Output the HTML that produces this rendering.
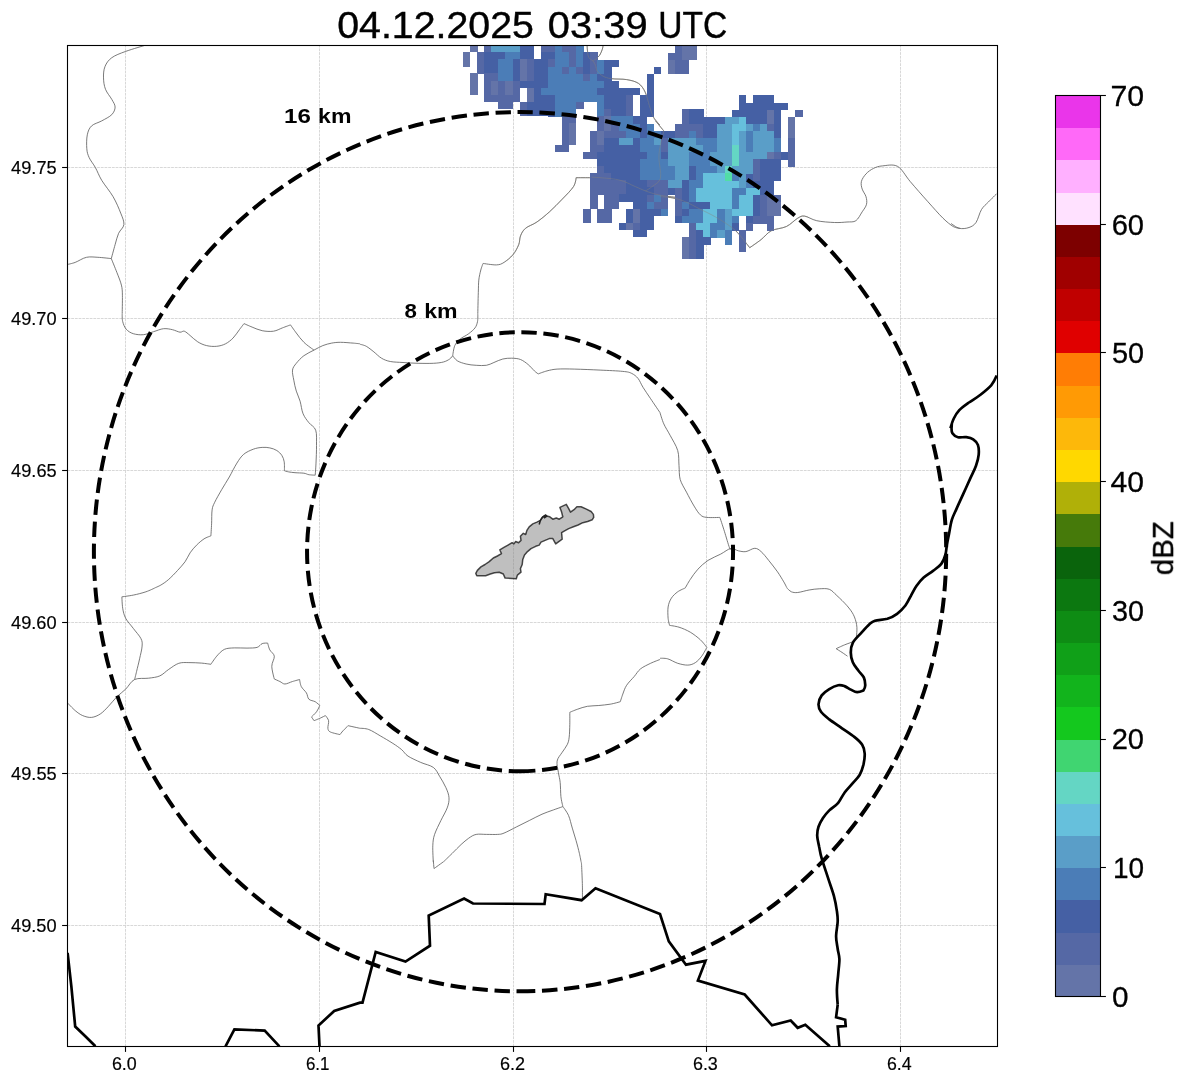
<!DOCTYPE html>
<html><head><meta charset="utf-8"><title>Radar</title>
<style>html,body{margin:0;padding:0;background:#fff}svg{display:block}text{font-family:"Liberation Sans",sans-serif;fill:#000}</style></head>
<body>
<svg width="1188" height="1084" viewBox="0 0 1188 1084">
<rect width="1188" height="1084" fill="#fff"/>
<defs><clipPath id="ax"><rect x="67.5" y="45.5" width="930.0" height="1001.0"/></clipPath>
<clipPath id="bb"><rect x="463" y="45" width="345" height="216"/></clipPath></defs>
<g clip-path="url(#ax)">
<g stroke="#cecece" stroke-width="0.8" stroke-dasharray="2.8 0.9" fill="none">
<line x1="125.5" y1="1046.5" x2="125.5" y2="45.5"/>
<line x1="319.5" y1="1046.5" x2="319.5" y2="45.5"/>
<line x1="513.5" y1="1046.5" x2="513.5" y2="45.5"/>
<line x1="706.5" y1="1046.5" x2="706.5" y2="45.5"/>
<line x1="900.5" y1="1046.5" x2="900.5" y2="45.5"/>
<line x1="67.5" y1="925.5" x2="997.5" y2="925.5"/>
<line x1="67.5" y1="773.5" x2="997.5" y2="773.5"/>
<line x1="67.5" y1="622.5" x2="997.5" y2="622.5"/>
<line x1="67.5" y1="470.5" x2="997.5" y2="470.5"/>
<line x1="67.5" y1="318.5" x2="997.5" y2="318.5"/>
<line x1="67.5" y1="167.5" x2="997.5" y2="167.5"/>
</g>
<g stroke="#585858" stroke-width="0.8" fill="none" stroke-linejoin="round"><path d="M145.9,45.1 C145.9,45.1 131.4,49.3 125.7,51.4 C120.0,53.5 115.2,55.2 111.8,57.7 C108.3,60.2 106.4,63.1 105.0,66.5 C103.6,69.9 103.4,74.1 103.5,77.9 C103.6,81.7 104.1,85.7 105.5,89.3 C106.9,92.9 110.2,96.5 111.8,99.4 C113.4,102.4 115.1,104.5 115.1,107.0 C115.1,109.5 114.0,112.3 111.8,114.6 C109.6,116.9 105.1,119.0 101.7,120.9 C98.3,122.8 94.0,123.6 91.6,125.9 C89.2,128.2 88.1,131.0 87.3,134.8 C86.5,138.6 86.5,144.9 86.8,148.7 C87.1,152.5 87.7,154.3 89.1,157.5 C90.5,160.7 93.3,163.8 95.4,167.6 C97.5,171.4 98.8,175.5 101.7,180.3 C104.7,185.2 109.9,191.2 113.1,196.7 C116.3,202.2 118.9,208.5 120.7,213.1 C122.5,217.7 124.2,221.1 123.9,224.5 C123.6,227.9 120.1,229.9 118.6,233.3 C117.1,236.7 116.3,240.5 115.1,244.7 C113.9,248.9 111.3,258.6 111.3,258.6"/><path d="M111.3,258.6 C111.3,258.6 102.0,257.5 97.9,257.3 C93.8,257.1 90.3,256.5 86.5,257.3 C82.7,258.1 78.4,261.2 75.2,262.4 C72.0,263.6 67.6,264.4 67.6,264.4"/><path d="M111.3,258.6 C111.3,258.6 115.2,268.1 116.9,272.5 C118.6,276.9 120.5,281.3 121.4,285.1 C122.3,288.9 122.3,290.4 122.4,295.2 C122.5,300.0 122.2,313.9 122.2,313.9"/><path d="M587.1,45.1 C587.1,45.1 587.3,49.7 587.6,51.8 C587.9,53.9 587.9,56.2 588.8,57.7 C589.7,59.2 591.9,59.7 593.0,61.0 C594.1,62.3 594.8,63.6 595.5,65.3 C596.2,67.0 595.9,69.3 597.2,71.1 C598.5,72.9 600.7,74.9 603.1,76.2 C605.5,77.5 607.6,78.1 611.5,78.7 C615.4,79.3 622.2,78.8 626.7,79.6 C631.2,80.4 635.4,81.3 638.5,83.4 C641.6,85.5 643.4,88.5 645.2,92.2 C647.0,95.9 648.0,101.5 649.4,105.7 C650.8,109.9 651.8,114.2 653.6,117.4 C655.4,120.6 660.0,125.0 660.0,125.0"/><path d="M603.1,45.1 C603.1,45.1 602.9,47.6 602.3,49.3 C601.7,51.0 600.7,53.7 599.7,55.2 C598.7,56.7 597.5,57.5 596.4,58.5 C595.3,59.5 593.0,61.0 593.0,61.0"/><path d="M655.5,120.9 C655.5,120.9 663.9,131.0 663.9,131.0 C663.9,131.0 661.3,140.0 660.5,144.5 C659.7,149.0 658.9,152.3 658.9,157.9 C658.9,163.5 661.6,173.3 660.5,178.1 C659.4,182.9 654.6,184.5 652.1,186.6 C649.6,188.7 645.4,190.9 645.4,190.9"/><path d="M590.0,177.7 C590.0,177.7 576.1,177.7 576.1,177.7 C576.1,177.7 575.8,183.0 573.5,186.6 C571.2,190.2 566.2,195.0 562.2,199.2 C558.2,203.4 553.7,208.0 549.5,211.8 C545.3,215.6 540.9,219.2 536.9,222.0 C532.9,224.8 528.2,226.0 525.5,228.3 C522.8,230.6 521.6,233.2 520.5,235.9 C519.4,238.6 520.0,241.5 518.7,244.7 C517.4,247.8 515.4,251.9 512.9,254.8 C510.4,257.8 506.7,260.7 504.0,262.4 C501.3,264.1 500.0,264.7 496.5,264.9 C493.0,265.1 483.1,263.4 483.1,263.4 C483.1,263.4 481.5,267.2 480.8,270.0 C480.1,272.8 479.2,276.3 478.8,280.1 C478.4,283.9 478.5,287.1 478.3,292.7 C478.1,298.3 477.8,313.9 477.8,313.9"/><path d="M591.5,177.1 C591.5,177.1 611.2,178.2 618.5,179.8 C625.8,181.4 630.8,184.8 635.3,186.6 C639.8,188.4 641.5,189.5 645.4,190.9 C649.3,192.3 653.8,193.9 658.9,195.0 C664.0,196.1 675.7,197.3 675.7,197.3"/><path d="M660.0,196.7 C660.0,196.7 668.4,197.1 672.6,197.9 C676.8,198.7 680.7,199.8 685.3,201.7 C689.9,203.6 695.8,207.0 700.4,209.3 C705.0,211.6 708.9,213.3 713.1,215.6 C717.3,217.9 721.9,220.7 725.7,223.2 C729.5,225.7 732.8,228.1 735.8,230.8 C738.8,233.5 741.1,236.8 743.4,239.6 C745.7,242.4 749.7,247.7 749.7,247.7 C749.7,247.7 757.5,242.4 761.1,239.6 C764.7,236.8 767.0,233.0 771.2,230.8 C775.4,228.6 782.0,228.6 786.4,226.5 C790.8,224.4 794.7,219.9 797.7,218.2 C800.7,216.5 801.4,215.7 804.6,216.1 C807.8,216.5 811.7,219.6 816.7,220.7 C821.7,221.8 829.4,222.3 834.4,222.5 C839.4,222.7 843.4,222.3 847.0,222.0 C850.6,221.7 853.4,222.4 855.9,220.7 C858.4,219.0 860.4,214.5 862.2,211.8 C864.0,209.1 865.9,206.8 866.5,204.3 C867.1,201.8 866.7,199.2 866.0,196.7 C865.3,194.2 863.0,191.6 862.2,189.1 C861.4,186.6 860.8,184.0 861.4,181.5 C862.0,179.0 864.0,176.1 866.0,173.9 C868.0,171.7 870.8,169.7 873.5,168.4 C876.2,167.1 878.4,166.2 882.4,165.9 C886.4,165.6 893.0,163.8 897.6,166.4 C902.2,169.0 905.2,175.6 910.2,181.5 C915.2,187.4 922.4,195.6 927.9,201.7 C933.4,207.8 938.8,214.1 943.0,218.2 C947.2,222.3 950.4,224.8 953.2,226.5 C956.0,228.2 960.0,228.3 960.0,228.3"/><path d="M122.2,314.0 C122.2,314.0 122.0,319.1 122.7,321.6 C123.4,324.1 124.4,327.2 126.2,329.2 C128.0,331.2 130.4,332.8 133.3,333.7 C136.2,334.6 140.0,335.0 143.4,334.7 C146.8,334.4 150.1,332.7 153.5,331.7 C156.9,330.7 160.4,329.0 163.6,328.7 C166.8,328.4 169.8,329.1 172.5,329.7 C175.2,330.3 178.0,331.9 180.0,332.2 C182.0,332.4 182.6,330.6 184.3,331.2 C186.0,331.8 187.9,333.7 190.1,335.5 C192.3,337.3 194.9,340.1 197.7,341.8 C200.4,343.5 203.4,344.9 206.6,345.6 C209.8,346.4 213.5,346.6 216.7,346.3 C219.8,346.0 222.8,345.2 225.5,343.8 C228.2,342.4 230.8,340.4 233.1,338.0 C235.4,335.6 237.6,332.1 239.4,329.7 C241.2,327.3 244.0,323.6 244.0,323.6 C244.0,323.6 249.1,325.9 252.1,327.1 C255.1,328.3 258.6,330.0 262.2,330.7 C265.8,331.4 270.1,331.7 273.5,331.2 C276.9,330.7 279.6,328.9 282.4,327.9 C285.2,326.8 290.5,324.9 290.5,324.9 C290.5,324.9 294.1,330.1 296.3,333.0 C298.5,335.9 300.9,339.4 303.9,342.3 C306.8,345.2 314.0,350.1 314.0,350.1"/><path d="M360.0,343.8 C360.0,343.8 356.4,343.4 353.2,343.1 C349.9,342.9 344.1,342.3 340.5,342.3 C336.9,342.3 334.6,342.6 331.7,343.1 C328.8,343.7 325.8,344.4 322.8,345.6 C319.9,346.8 317.1,348.4 314.0,350.1 C310.9,351.8 306.8,353.5 303.9,355.7 C300.9,357.9 298.2,360.9 296.3,363.3 C294.4,365.7 292.9,367.3 292.5,370.1 C292.1,372.9 293.2,376.7 293.8,380.2 C294.4,383.7 295.2,387.6 296.3,391.1 C297.4,394.6 299.0,397.4 300.1,401.2 C301.2,405.0 301.6,410.2 303.1,413.8 C304.6,417.4 306.8,420.0 308.9,422.7 C311.0,425.4 314.4,426.4 315.7,430.2 C317.0,434.0 316.4,439.9 316.5,445.4 C316.6,450.9 316.2,458.1 316.0,463.1 C315.8,468.1 315.2,475.2 315.2,475.2 C315.2,475.2 310.8,475.0 308.9,474.7 C307.0,474.4 306.2,473.5 303.9,473.2 C301.6,472.9 297.5,472.9 295.0,472.7 C292.5,472.5 290.5,472.2 288.7,471.9 C286.9,471.6 284.4,470.7 284.4,470.7 C284.4,470.7 284.6,464.3 284.2,461.8 C283.8,459.3 283.1,457.4 281.9,455.5 C280.7,453.6 278.8,451.8 276.8,450.5 C274.8,449.2 272.2,448.4 269.8,447.9 C267.4,447.4 264.9,447.2 262.2,447.4 C259.4,447.6 256.4,448.0 253.3,449.2 C250.2,450.4 246.4,452.0 243.7,454.3 C241.0,456.6 239.3,459.3 236.9,463.1 C234.5,466.9 231.8,472.6 229.3,477.0 C226.8,481.4 224.1,485.4 221.7,489.6 C219.3,493.8 216.3,498.9 214.7,502.3 C213.1,505.7 212.6,506.3 212.1,509.9 C211.6,513.5 211.8,519.5 211.6,523.8 C211.4,528.1 210.9,535.9 210.9,535.9 C210.9,535.9 206.4,537.3 204.0,538.9 C201.6,540.5 198.8,542.9 196.5,545.2 C194.2,547.5 192.0,550.0 190.1,552.8 C188.2,555.5 187.2,558.8 185.1,561.7 C183.0,564.7 180.2,567.5 177.5,570.5 C174.8,573.5 171.4,577.0 168.7,579.4 C166.0,581.8 163.4,583.5 161.1,584.9 C158.8,586.3 154.8,587.9 154.8,587.9"/><path d="M477.8,314.0 C477.8,314.0 478.0,319.3 477.5,321.6 C477.0,323.9 476.5,325.9 475.0,327.9 C473.5,329.9 471.2,331.8 468.7,333.7 C466.2,335.6 462.1,337.3 459.8,339.3 C457.5,341.3 456.0,342.9 454.8,345.6 C453.6,348.3 452.7,355.7 452.7,355.7"/><path d="M360.0,344.3 C360.0,344.3 364.0,345.0 366.3,346.3 C368.6,347.6 371.4,349.9 373.9,351.9 C376.4,353.9 378.8,356.6 381.5,358.2 C384.2,359.8 386.7,360.8 390.3,361.5 C393.9,362.2 398.4,362.2 403.0,362.5 C407.6,362.8 413.1,363.2 418.1,363.3 C423.2,363.4 429.1,363.5 433.3,363.3 C437.5,363.1 440.7,362.7 443.4,362.0 C446.1,361.3 448.1,360.1 449.7,359.0 C451.2,357.9 452.7,355.7 452.7,355.7 C452.7,355.7 455.1,359.4 457.3,360.8 C459.5,362.2 463.0,363.2 466.1,364.0 C469.2,364.8 472.8,365.1 476.2,365.3 C479.6,365.5 483.4,365.8 486.4,365.3 C489.3,364.8 491.2,363.6 493.9,362.5 C496.6,361.4 499.9,359.7 502.8,359.0 C505.8,358.3 508.7,358.1 511.6,358.2 C514.6,358.3 517.8,358.4 520.5,359.5 C523.2,360.6 525.8,362.6 528.1,364.5 C530.4,366.4 532.7,369.3 534.4,370.9 C536.1,372.5 538.2,373.9 538.2,373.9 C538.2,373.9 543.9,371.7 547.0,370.9 C550.1,370.1 552.5,369.4 557.1,369.1 C561.7,368.8 567.6,368.9 574.8,369.1 C582.0,369.3 592.1,369.7 600.1,370.1 C608.1,370.5 617.5,370.8 622.8,371.4 C628.1,371.9 629.2,372.2 631.7,373.4 C634.2,374.6 636.1,376.1 638.0,378.4 C639.9,380.7 640.9,383.9 643.0,387.3 C645.1,390.7 647.8,394.5 650.6,398.7 C653.4,402.9 660.0,412.6 660.0,412.6"/><path d="M660.0,412.6 C660.0,412.6 662.1,420.1 663.8,423.9 C665.5,427.7 667.8,430.9 670.1,435.3 C672.4,439.7 676.2,445.4 677.7,450.5 C679.2,455.6 678.6,460.8 679.0,465.6 C679.4,470.4 679.0,475.1 680.2,479.5 C681.5,483.9 684.2,487.8 686.5,492.2 C688.8,496.6 691.8,502.3 694.1,506.1 C696.4,509.9 698.3,513.0 700.4,514.9 C702.5,516.8 703.5,517.0 706.8,517.4 C710.0,517.8 719.9,517.4 719.9,517.4 C719.9,517.4 722.8,526.2 724.4,531.3 C726.0,536.4 728.4,544.9 729.5,547.8 C730.6,550.7 730.8,548.5 730.8,548.5"/><path d="M685.3,587.9 C685.3,587.9 688.2,582.5 690.3,579.4 C692.4,576.3 694.9,572.4 697.9,569.2 C700.9,566.0 704.2,562.9 708.0,560.4 C711.8,557.9 716.9,556.1 720.7,554.1 C724.5,552.1 727.9,549.0 730.8,548.5 C733.7,548.0 735.8,550.3 738.3,550.8 C740.8,551.3 743.1,552.0 745.9,551.6 C748.6,551.2 752.3,548.3 754.8,548.3 C757.3,548.3 758.8,549.6 761.1,551.6 C763.4,553.6 766.0,557.0 768.7,560.4 C771.4,563.8 775.0,568.2 777.5,571.8 C780.0,575.4 782.2,579.2 783.8,581.9 C785.4,584.6 786.9,587.9 786.9,587.9"/><path d="M154.8,588.0 C154.8,588.0 149.5,590.6 145.9,591.8 C142.3,593.0 137.3,594.3 133.3,595.1 C129.3,595.9 121.9,596.8 121.9,596.8 C121.9,596.8 122.1,604.6 122.7,608.2 C123.3,611.8 123.9,614.9 125.7,618.3 C127.5,621.7 130.8,625.0 133.3,628.4 C135.8,631.8 139.4,635.5 140.9,638.5 C142.4,641.5 142.3,642.7 142.1,646.1 C141.9,649.5 140.5,654.6 139.6,658.8 C138.7,663.0 137.4,667.9 136.6,671.4 C135.8,674.9 134.6,679.5 134.6,679.5"/><path d="M67.6,703.0 C67.6,703.0 72.7,708.5 75.2,710.6 C77.7,712.7 80.0,714.5 82.7,715.6 C85.4,716.7 88.6,717.7 91.6,717.4 C94.5,717.1 97.7,715.7 100.4,713.9 C103.1,712.1 105.2,709.7 108.0,706.8 C110.8,703.9 114.0,699.7 116.9,696.7 C119.9,693.8 122.8,692.0 125.7,689.1 C128.7,686.2 130.8,681.3 134.6,679.5 C138.4,677.7 144.3,678.8 148.5,678.2 C152.7,677.6 156.4,677.4 159.8,675.9 C163.2,674.4 165.5,671.5 168.7,669.4 C171.9,667.3 175.4,664.4 178.8,663.3 C182.2,662.2 185.1,662.6 188.9,662.6 C192.7,662.6 197.8,662.8 201.5,663.1 C205.2,663.4 210.9,664.3 210.9,664.3 C210.9,664.3 214.5,658.7 216.7,656.2 C218.9,653.7 221.4,650.8 224.3,649.4 C227.2,648.0 230.6,648.1 234.4,647.9 C238.2,647.7 243.2,648.2 247.0,648.1 C250.8,648.0 254.6,648.1 257.1,647.4 C259.6,646.6 260.4,644.3 262.2,643.6 C264.0,642.9 267.7,643.1 267.7,643.1 C267.7,643.1 268.7,647.7 269.8,649.9 C270.9,652.1 274.0,653.5 274.3,656.2 C274.6,658.9 271.8,662.5 271.8,666.3 C271.8,670.1 274.3,679.0 274.3,679.0 C274.3,679.0 278.1,680.7 279.9,681.5 C281.7,682.3 282.8,684.0 284.9,684.0 C287.0,684.0 290.1,682.2 292.5,681.5 C294.9,680.8 299.6,679.5 299.6,679.5 C299.6,679.5 300.2,684.4 301.3,686.6 C302.4,688.8 305.1,690.8 306.4,692.9 C307.7,695.0 307.4,697.7 308.9,699.2 C310.4,700.7 313.4,700.7 315.2,701.7 C317.0,702.8 319.8,705.5 319.8,705.5 C319.8,705.5 317.9,709.9 316.5,711.8 C315.1,713.7 311.5,716.9 311.5,716.9 C311.5,716.9 314.0,720.7 314.0,720.7 C314.0,720.7 318.4,719.0 320.3,718.1 C322.2,717.2 325.4,715.6 325.4,715.6 C325.4,715.6 328.2,718.6 328.6,720.7 C329.0,722.8 327.6,726.4 327.9,728.3 C328.2,730.2 328.4,731.0 330.4,732.0 C332.4,733.0 340.0,734.6 340.0,734.6 C340.0,734.6 341.6,732.3 343.0,730.8 C344.4,729.3 348.1,725.7 348.1,725.7 C348.1,725.7 360.0,728.3 360.0,728.3"/><path d="M360.0,728.3 C360.0,728.3 365.4,728.2 368.8,729.5 C372.2,730.8 376.2,733.5 380.2,735.8 C384.2,738.1 389.3,741.1 392.9,743.4 C396.5,745.7 399.2,747.6 401.7,749.7 C404.2,751.8 404.8,754.0 408.0,756.1 C411.2,758.2 416.5,760.5 420.7,762.4 C424.9,764.3 430.1,765.1 433.3,767.4 C436.5,769.7 437.5,772.9 439.6,776.3 C441.7,779.7 444.3,784.0 445.9,787.6 C447.5,791.2 448.8,794.4 449.0,797.8 C449.2,801.2 448.6,804.1 447.2,807.9 C445.8,811.7 443.0,816.1 440.9,820.5 C438.8,824.9 436.0,830.2 434.6,834.4 C433.2,838.6 433.0,841.2 432.8,845.8 C432.6,850.4 433.3,861.9 433.3,861.9"/><path d="M660.0,659.5 C660.0,659.5 653.9,661.7 650.6,663.3 C647.4,664.9 643.2,666.7 640.5,668.9 C637.8,671.1 636.5,673.8 634.2,676.5 C631.9,679.2 628.5,682.4 626.6,685.3 C624.7,688.2 623.8,691.4 622.8,694.1 C621.8,696.8 620.3,701.7 620.3,701.7 C620.3,701.7 613.8,703.6 610.2,704.2 C606.6,704.8 602.6,705.1 598.8,705.5 C595.0,705.9 591.0,705.7 587.4,706.3 C583.8,706.9 580.2,708.3 577.3,709.3 C574.4,710.3 569.8,712.3 569.8,712.3 C569.8,712.3 569.9,720.4 569.8,724.5 C569.7,728.6 569.6,733.7 569.2,737.1 C568.8,740.5 568.4,742.2 567.2,744.7 C566.0,747.2 563.9,749.6 562.2,752.3 C560.5,755.0 557.7,757.7 557.1,761.1 C556.5,764.5 557.9,768.9 558.4,772.5 C558.9,776.1 559.8,778.6 560.2,782.6 C560.6,786.6 560.5,792.5 560.9,796.5 C561.3,800.5 562.9,806.6 562.9,806.6"/><path d="M562.9,806.6 C562.9,806.6 555.6,809.1 552.1,810.4 C548.6,811.7 545.8,812.5 542.0,814.2 C538.2,815.9 533.5,818.4 529.3,820.5 C525.1,822.6 520.9,824.7 516.7,826.8 C512.5,828.9 507.2,831.8 504.0,833.1 C500.8,834.4 500.6,834.2 497.7,834.4 C494.8,834.6 490.0,834.4 486.4,834.4 C482.8,834.4 479.1,833.8 476.2,834.4 C473.2,835.0 471.2,836.5 468.7,838.2 C466.2,839.9 463.9,842.0 461.1,844.5 C458.4,847.0 455.1,850.5 452.2,853.4 C449.2,856.3 443.4,861.9 443.4,861.9"/><path d="M562.9,806.6 C562.9,806.6 566.9,811.8 568.5,815.4 C570.1,819.0 571.0,823.9 572.3,828.1 C573.6,832.3 574.9,836.5 576.1,840.7 C577.3,844.9 578.6,849.9 579.4,853.4 C580.2,856.9 581.1,861.9 581.1,861.9"/><path d="M433.3,860.5 C433.3,860.5 434.0,868.6 434.0,868.6 C434.0,868.6 443.4,861.8 443.4,861.8"/><path d="M581.1,862.1 C581.1,862.1 581.4,861.7 581.6,865.6 C581.8,869.5 582.3,880.3 582.4,885.8 C582.5,891.3 582.4,898.5 582.4,898.5"/><path d="M685.3,588.0 C685.3,588.0 680.0,590.1 677.7,591.8 C675.4,593.5 673.0,595.6 671.4,598.1 C669.8,600.6 668.6,603.6 668.1,607.0 C667.6,610.4 667.9,615.2 668.1,618.3 C668.4,621.4 669.6,625.4 669.6,625.4 C669.6,625.4 675.5,626.1 679.0,627.2 C682.5,628.3 686.7,630.1 690.3,632.2 C693.9,634.3 697.6,637.3 700.4,639.8 C703.1,642.3 706.8,647.4 706.8,647.4 C706.8,647.4 703.6,653.7 701.7,656.2 C699.8,658.7 697.7,661.1 695.4,662.6 C693.1,664.1 690.8,665.0 687.8,665.1 C684.8,665.2 681.1,664.3 677.7,663.3 C674.3,662.2 670.6,659.6 667.6,658.8 C664.6,658.0 660.0,658.3 660.0,658.3"/><path d="M786.9,588.0 C786.9,588.0 789.6,591.0 791.4,591.8 C793.2,592.5 794.8,592.8 797.7,592.5 C800.7,592.2 805.5,590.6 809.1,590.0 C812.7,589.4 815.8,588.9 819.2,588.8 C822.6,588.7 826.3,588.2 829.3,589.3 C832.2,590.4 833.9,592.9 836.9,595.6 C839.9,598.3 844.3,602.6 847.0,605.7 C849.7,608.9 851.7,611.4 853.3,614.5 C854.9,617.6 856.0,621.2 856.6,624.6 C857.2,628.0 856.9,632.1 856.6,634.8 C856.3,637.5 856.6,638.9 854.6,640.6 C852.6,642.3 847.6,643.5 844.5,644.9 C841.4,646.2 836.1,648.7 836.1,648.7 C836.1,648.7 840.1,651.1 842.0,652.4 C843.9,653.6 847.5,656.2 847.5,656.2"/><path d="M951.0,223.4 C951.0,223.4 956.3,227.6 959.3,228.3 C962.3,229.0 966.2,228.5 969.0,227.5 C971.8,226.5 973.9,225.5 976.0,222.5 C978.1,219.5 979.4,212.9 981.5,209.5 C983.6,206.1 985.9,204.6 988.4,202.0 C990.9,199.4 996.7,193.7 996.7,193.7"/></g>
<g shape-rendering="crispEdges" transform="translate(463.1,45.0) skewY(0.143)">
<rect x="7.07" y="0.00" width="7.37" height="7.40" fill="#6474A8"/>
<rect x="21.20" y="0.00" width="7.37" height="7.40" fill="#5568A5"/>
<rect x="28.26" y="0.00" width="28.56" height="7.40" fill="#5A9EC8"/>
<rect x="56.52" y="0.00" width="14.43" height="7.40" fill="#4560A4"/>
<rect x="77.72" y="0.00" width="14.43" height="7.40" fill="#5568A5"/>
<rect x="91.84" y="0.00" width="7.37" height="7.40" fill="#4B7DB7"/>
<rect x="98.91" y="0.00" width="14.43" height="7.40" fill="#5568A5"/>
<rect x="113.04" y="0.00" width="7.37" height="7.40" fill="#4B7DB7"/>
<rect x="211.95" y="0.00" width="7.37" height="7.40" fill="#5568A5"/>
<rect x="219.02" y="0.00" width="14.43" height="7.40" fill="#6474A8"/>
<rect x="0.00" y="7.10" width="7.37" height="7.40" fill="#6474A8"/>
<rect x="14.13" y="7.10" width="7.37" height="7.40" fill="#5568A5"/>
<rect x="21.20" y="7.10" width="21.50" height="7.40" fill="#4560A4"/>
<rect x="42.39" y="7.10" width="14.43" height="7.40" fill="#4B7DB7"/>
<rect x="56.52" y="7.10" width="14.43" height="7.40" fill="#4560A4"/>
<rect x="77.72" y="7.10" width="14.43" height="7.40" fill="#4560A4"/>
<rect x="91.84" y="7.10" width="14.43" height="7.40" fill="#4B7DB7"/>
<rect x="105.98" y="7.10" width="7.37" height="7.40" fill="#5568A5"/>
<rect x="113.04" y="7.10" width="7.37" height="7.40" fill="#4B7DB7"/>
<rect x="120.11" y="7.10" width="7.37" height="7.40" fill="#4560A4"/>
<rect x="127.17" y="7.10" width="7.37" height="7.40" fill="#5568A5"/>
<rect x="204.89" y="7.10" width="14.43" height="7.40" fill="#5568A5"/>
<rect x="219.02" y="7.10" width="14.43" height="7.40" fill="#6474A8"/>
<rect x="0.00" y="14.20" width="7.37" height="7.40" fill="#6474A8"/>
<rect x="14.13" y="14.20" width="7.37" height="7.40" fill="#5568A5"/>
<rect x="21.20" y="14.20" width="14.43" height="7.40" fill="#4560A4"/>
<rect x="35.33" y="14.20" width="14.43" height="7.40" fill="#4B7DB7"/>
<rect x="49.46" y="14.20" width="7.37" height="7.40" fill="#4560A4"/>
<rect x="56.52" y="14.20" width="7.37" height="7.40" fill="#6474A8"/>
<rect x="63.59" y="14.20" width="7.37" height="7.40" fill="#5568A5"/>
<rect x="70.65" y="14.20" width="14.43" height="7.40" fill="#4560A4"/>
<rect x="84.78" y="14.20" width="7.37" height="7.40" fill="#5568A5"/>
<rect x="91.84" y="14.20" width="14.43" height="7.40" fill="#4B7DB7"/>
<rect x="105.98" y="14.20" width="7.37" height="7.40" fill="#5568A5"/>
<rect x="113.04" y="14.20" width="7.37" height="7.40" fill="#4B7DB7"/>
<rect x="120.11" y="14.20" width="7.37" height="7.40" fill="#4560A4"/>
<rect x="127.17" y="14.20" width="7.37" height="7.40" fill="#5568A5"/>
<rect x="134.24" y="14.20" width="7.37" height="7.40" fill="#4B7DB7"/>
<rect x="141.30" y="14.20" width="14.43" height="7.40" fill="#4560A4"/>
<rect x="204.89" y="14.20" width="7.37" height="7.40" fill="#6474A8"/>
<rect x="211.95" y="14.20" width="14.43" height="7.40" fill="#5568A5"/>
<rect x="14.13" y="21.30" width="7.37" height="7.40" fill="#5568A5"/>
<rect x="21.20" y="21.30" width="14.43" height="7.40" fill="#4560A4"/>
<rect x="35.33" y="21.30" width="14.43" height="7.40" fill="#4B7DB7"/>
<rect x="49.46" y="21.30" width="7.37" height="7.40" fill="#4560A4"/>
<rect x="56.52" y="21.30" width="7.37" height="7.40" fill="#6474A8"/>
<rect x="63.59" y="21.30" width="7.37" height="7.40" fill="#5568A5"/>
<rect x="70.65" y="21.30" width="14.43" height="7.40" fill="#4560A4"/>
<rect x="84.78" y="21.30" width="14.43" height="7.40" fill="#4B7DB7"/>
<rect x="98.91" y="21.30" width="7.37" height="7.40" fill="#5568A5"/>
<rect x="105.98" y="21.30" width="7.37" height="7.40" fill="#4B7DB7"/>
<rect x="113.04" y="21.30" width="7.37" height="7.40" fill="#5568A5"/>
<rect x="120.11" y="21.30" width="7.37" height="7.40" fill="#4560A4"/>
<rect x="127.17" y="21.30" width="7.37" height="7.40" fill="#5568A5"/>
<rect x="134.24" y="21.30" width="7.37" height="7.40" fill="#4B7DB7"/>
<rect x="141.30" y="21.30" width="7.37" height="7.40" fill="#4560A4"/>
<rect x="190.76" y="21.30" width="7.37" height="7.40" fill="#4560A4"/>
<rect x="204.89" y="21.30" width="7.37" height="7.40" fill="#6474A8"/>
<rect x="211.95" y="21.30" width="14.43" height="7.40" fill="#5568A5"/>
<rect x="7.07" y="28.40" width="7.37" height="7.40" fill="#6474A8"/>
<rect x="21.20" y="28.40" width="14.43" height="7.40" fill="#5568A5"/>
<rect x="35.33" y="28.40" width="14.43" height="7.40" fill="#4B7DB7"/>
<rect x="49.46" y="28.40" width="7.37" height="7.40" fill="#4560A4"/>
<rect x="56.52" y="28.40" width="7.37" height="7.40" fill="#6474A8"/>
<rect x="63.59" y="28.40" width="7.37" height="7.40" fill="#5568A5"/>
<rect x="70.65" y="28.40" width="14.43" height="7.40" fill="#4560A4"/>
<rect x="84.78" y="28.40" width="35.62" height="7.40" fill="#4B7DB7"/>
<rect x="120.11" y="28.40" width="7.37" height="7.40" fill="#5568A5"/>
<rect x="127.17" y="28.40" width="7.37" height="7.40" fill="#4B7DB7"/>
<rect x="134.24" y="28.40" width="14.43" height="7.40" fill="#4560A4"/>
<rect x="183.69" y="28.40" width="7.37" height="7.40" fill="#4560A4"/>
<rect x="7.07" y="35.50" width="7.37" height="7.40" fill="#6474A8"/>
<rect x="21.20" y="35.50" width="7.37" height="7.40" fill="#5568A5"/>
<rect x="28.26" y="35.50" width="7.37" height="7.40" fill="#6474A8"/>
<rect x="35.33" y="35.50" width="7.37" height="7.40" fill="#5568A5"/>
<rect x="42.39" y="35.50" width="7.37" height="7.40" fill="#6474A8"/>
<rect x="49.46" y="35.50" width="7.37" height="7.40" fill="#5568A5"/>
<rect x="56.52" y="35.50" width="28.56" height="7.40" fill="#4560A4"/>
<rect x="84.78" y="35.50" width="56.82" height="7.40" fill="#4B7DB7"/>
<rect x="141.30" y="35.50" width="14.43" height="7.40" fill="#4560A4"/>
<rect x="183.69" y="35.50" width="7.37" height="7.40" fill="#4560A4"/>
<rect x="7.07" y="42.60" width="7.37" height="7.40" fill="#6474A8"/>
<rect x="21.20" y="42.60" width="7.37" height="7.40" fill="#5568A5"/>
<rect x="28.26" y="42.60" width="7.37" height="7.40" fill="#6474A8"/>
<rect x="35.33" y="42.60" width="7.37" height="7.40" fill="#5568A5"/>
<rect x="42.39" y="42.60" width="7.37" height="7.40" fill="#6474A8"/>
<rect x="49.46" y="42.60" width="7.37" height="7.40" fill="#5568A5"/>
<rect x="63.59" y="42.60" width="7.37" height="7.40" fill="#6474A8"/>
<rect x="70.65" y="42.60" width="7.37" height="7.40" fill="#4560A4"/>
<rect x="77.72" y="42.60" width="56.82" height="7.40" fill="#4B7DB7"/>
<rect x="134.24" y="42.60" width="42.69" height="7.40" fill="#4560A4"/>
<rect x="183.69" y="42.60" width="7.37" height="7.40" fill="#4560A4"/>
<rect x="21.20" y="49.70" width="35.62" height="7.40" fill="#5568A5"/>
<rect x="63.59" y="49.70" width="7.37" height="7.40" fill="#6474A8"/>
<rect x="70.65" y="49.70" width="21.50" height="7.40" fill="#4560A4"/>
<rect x="91.84" y="49.70" width="49.76" height="7.40" fill="#4B7DB7"/>
<rect x="141.30" y="49.70" width="21.50" height="7.40" fill="#4560A4"/>
<rect x="162.50" y="49.70" width="7.37" height="7.40" fill="#5568A5"/>
<rect x="176.62" y="49.70" width="14.43" height="7.40" fill="#4560A4"/>
<rect x="275.54" y="49.70" width="7.37" height="7.40" fill="#4560A4"/>
<rect x="289.67" y="49.70" width="21.50" height="7.40" fill="#4560A4"/>
<rect x="35.33" y="56.80" width="14.43" height="7.40" fill="#5568A5"/>
<rect x="56.52" y="56.80" width="7.37" height="7.40" fill="#5568A5"/>
<rect x="63.59" y="56.80" width="28.56" height="7.40" fill="#4560A4"/>
<rect x="91.84" y="56.80" width="21.50" height="7.40" fill="#4B7DB7"/>
<rect x="113.04" y="56.80" width="7.37" height="7.40" fill="#5568A5"/>
<rect x="134.24" y="56.80" width="7.37" height="7.40" fill="#4B7DB7"/>
<rect x="141.30" y="56.80" width="21.50" height="7.40" fill="#4560A4"/>
<rect x="162.50" y="56.80" width="7.37" height="7.40" fill="#5568A5"/>
<rect x="176.62" y="56.80" width="14.43" height="7.40" fill="#4560A4"/>
<rect x="275.54" y="56.80" width="49.76" height="7.40" fill="#4560A4"/>
<rect x="56.52" y="63.90" width="7.37" height="7.40" fill="#5568A5"/>
<rect x="63.59" y="63.90" width="28.56" height="7.40" fill="#4560A4"/>
<rect x="91.84" y="63.90" width="21.50" height="7.40" fill="#4B7DB7"/>
<rect x="134.24" y="63.90" width="7.37" height="7.40" fill="#4B7DB7"/>
<rect x="141.30" y="63.90" width="7.37" height="7.40" fill="#5568A5"/>
<rect x="148.37" y="63.90" width="14.43" height="7.40" fill="#4560A4"/>
<rect x="162.50" y="63.90" width="7.37" height="7.40" fill="#5568A5"/>
<rect x="176.62" y="63.90" width="14.43" height="7.40" fill="#4560A4"/>
<rect x="219.02" y="63.90" width="7.37" height="7.40" fill="#5568A5"/>
<rect x="226.08" y="63.90" width="14.43" height="7.40" fill="#4560A4"/>
<rect x="268.47" y="63.90" width="35.62" height="7.40" fill="#4560A4"/>
<rect x="303.80" y="63.90" width="7.37" height="7.40" fill="#6474A8"/>
<rect x="310.86" y="63.90" width="7.37" height="7.40" fill="#4560A4"/>
<rect x="332.06" y="63.90" width="7.37" height="7.40" fill="#5568A5"/>
<rect x="98.91" y="71.00" width="14.43" height="7.40" fill="#5568A5"/>
<rect x="134.24" y="71.00" width="7.37" height="7.40" fill="#5568A5"/>
<rect x="141.30" y="71.00" width="7.37" height="7.40" fill="#6474A8"/>
<rect x="148.37" y="71.00" width="21.50" height="7.40" fill="#4B7DB7"/>
<rect x="169.56" y="71.00" width="14.43" height="7.40" fill="#4560A4"/>
<rect x="219.02" y="71.00" width="7.37" height="7.40" fill="#5568A5"/>
<rect x="226.08" y="71.00" width="35.62" height="7.40" fill="#4560A4"/>
<rect x="261.41" y="71.00" width="14.43" height="7.40" fill="#5A9EC8"/>
<rect x="275.54" y="71.00" width="7.37" height="7.40" fill="#66C0DC"/>
<rect x="282.60" y="71.00" width="21.50" height="7.40" fill="#4560A4"/>
<rect x="303.80" y="71.00" width="7.37" height="7.40" fill="#6474A8"/>
<rect x="310.86" y="71.00" width="7.37" height="7.40" fill="#4560A4"/>
<rect x="324.99" y="71.00" width="7.37" height="7.40" fill="#6474A8"/>
<rect x="98.91" y="78.10" width="7.37" height="7.40" fill="#5568A5"/>
<rect x="105.98" y="78.10" width="7.37" height="7.40" fill="#6474A8"/>
<rect x="134.24" y="78.10" width="7.37" height="7.40" fill="#5568A5"/>
<rect x="141.30" y="78.10" width="7.37" height="7.40" fill="#6474A8"/>
<rect x="148.37" y="78.10" width="7.37" height="7.40" fill="#5568A5"/>
<rect x="155.43" y="78.10" width="21.50" height="7.40" fill="#4B7DB7"/>
<rect x="176.62" y="78.10" width="7.37" height="7.40" fill="#4560A4"/>
<rect x="183.69" y="78.10" width="7.37" height="7.40" fill="#4B7DB7"/>
<rect x="211.95" y="78.10" width="28.56" height="7.40" fill="#5568A5"/>
<rect x="240.21" y="78.10" width="14.43" height="7.40" fill="#4560A4"/>
<rect x="254.34" y="78.10" width="14.43" height="7.40" fill="#5A9EC8"/>
<rect x="268.47" y="78.10" width="14.43" height="7.40" fill="#66C0DC"/>
<rect x="282.60" y="78.10" width="7.37" height="7.40" fill="#5A9EC8"/>
<rect x="289.67" y="78.10" width="7.37" height="7.40" fill="#4B7DB7"/>
<rect x="296.73" y="78.10" width="7.37" height="7.40" fill="#5A9EC8"/>
<rect x="303.80" y="78.10" width="7.37" height="7.40" fill="#5568A5"/>
<rect x="310.86" y="78.10" width="7.37" height="7.40" fill="#4560A4"/>
<rect x="324.99" y="78.10" width="7.37" height="7.40" fill="#6474A8"/>
<rect x="98.91" y="85.20" width="7.37" height="7.40" fill="#5568A5"/>
<rect x="105.98" y="85.20" width="7.37" height="7.40" fill="#6474A8"/>
<rect x="127.17" y="85.20" width="7.37" height="7.40" fill="#5568A5"/>
<rect x="134.24" y="85.20" width="7.37" height="7.40" fill="#6474A8"/>
<rect x="141.30" y="85.20" width="21.50" height="7.40" fill="#5568A5"/>
<rect x="162.50" y="85.20" width="14.43" height="7.40" fill="#4B7DB7"/>
<rect x="176.62" y="85.20" width="7.37" height="7.40" fill="#4560A4"/>
<rect x="183.69" y="85.20" width="14.43" height="7.40" fill="#4B7DB7"/>
<rect x="197.82" y="85.20" width="14.43" height="7.40" fill="#4560A4"/>
<rect x="211.95" y="85.20" width="14.43" height="7.40" fill="#5568A5"/>
<rect x="226.08" y="85.20" width="7.37" height="7.40" fill="#4B7DB7"/>
<rect x="233.15" y="85.20" width="7.37" height="7.40" fill="#5568A5"/>
<rect x="240.21" y="85.20" width="14.43" height="7.40" fill="#4560A4"/>
<rect x="254.34" y="85.20" width="14.43" height="7.40" fill="#5A9EC8"/>
<rect x="268.47" y="85.20" width="7.37" height="7.40" fill="#66C0DC"/>
<rect x="275.54" y="85.20" width="7.37" height="7.40" fill="#5A9EC8"/>
<rect x="282.60" y="85.20" width="7.37" height="7.40" fill="#4B7DB7"/>
<rect x="289.67" y="85.20" width="21.50" height="7.40" fill="#5A9EC8"/>
<rect x="310.86" y="85.20" width="7.37" height="7.40" fill="#4560A4"/>
<rect x="324.99" y="85.20" width="7.37" height="7.40" fill="#6474A8"/>
<rect x="98.91" y="92.30" width="7.37" height="7.40" fill="#5568A5"/>
<rect x="105.98" y="92.30" width="7.37" height="7.40" fill="#6474A8"/>
<rect x="127.17" y="92.30" width="7.37" height="7.40" fill="#5568A5"/>
<rect x="134.24" y="92.30" width="7.37" height="7.40" fill="#6474A8"/>
<rect x="141.30" y="92.30" width="14.43" height="7.40" fill="#4560A4"/>
<rect x="155.43" y="92.30" width="14.43" height="7.40" fill="#5A9EC8"/>
<rect x="169.56" y="92.30" width="7.37" height="7.40" fill="#4560A4"/>
<rect x="176.62" y="92.30" width="14.43" height="7.40" fill="#4B7DB7"/>
<rect x="190.76" y="92.30" width="7.37" height="7.40" fill="#5A9EC8"/>
<rect x="197.82" y="92.30" width="7.37" height="7.40" fill="#5568A5"/>
<rect x="204.89" y="92.30" width="28.56" height="7.40" fill="#5A9EC8"/>
<rect x="233.15" y="92.30" width="21.50" height="7.40" fill="#4B7DB7"/>
<rect x="254.34" y="92.30" width="14.43" height="7.40" fill="#5A9EC8"/>
<rect x="268.47" y="92.30" width="7.37" height="7.40" fill="#66C0DC"/>
<rect x="275.54" y="92.30" width="7.37" height="7.40" fill="#5A9EC8"/>
<rect x="282.60" y="92.30" width="7.37" height="7.40" fill="#4B7DB7"/>
<rect x="289.67" y="92.30" width="21.50" height="7.40" fill="#5A9EC8"/>
<rect x="310.86" y="92.30" width="7.37" height="7.40" fill="#4B7DB7"/>
<rect x="324.99" y="92.30" width="7.37" height="7.40" fill="#5568A5"/>
<rect x="91.84" y="99.40" width="14.43" height="7.40" fill="#5568A5"/>
<rect x="127.17" y="99.40" width="14.43" height="7.40" fill="#5568A5"/>
<rect x="141.30" y="99.40" width="35.62" height="7.40" fill="#4560A4"/>
<rect x="176.62" y="99.40" width="21.50" height="7.40" fill="#4B7DB7"/>
<rect x="197.82" y="99.40" width="7.37" height="7.40" fill="#5568A5"/>
<rect x="204.89" y="99.40" width="35.62" height="7.40" fill="#5A9EC8"/>
<rect x="240.21" y="99.40" width="14.43" height="7.40" fill="#4B7DB7"/>
<rect x="254.34" y="99.40" width="14.43" height="7.40" fill="#5A9EC8"/>
<rect x="268.47" y="99.40" width="7.37" height="7.40" fill="#64D6C4"/>
<rect x="275.54" y="99.40" width="7.37" height="7.40" fill="#5A9EC8"/>
<rect x="282.60" y="99.40" width="7.37" height="7.40" fill="#4B7DB7"/>
<rect x="289.67" y="99.40" width="21.50" height="7.40" fill="#5A9EC8"/>
<rect x="310.86" y="99.40" width="7.37" height="7.40" fill="#4B7DB7"/>
<rect x="324.99" y="99.40" width="7.37" height="7.40" fill="#5568A5"/>
<rect x="120.11" y="106.50" width="14.43" height="7.40" fill="#5568A5"/>
<rect x="134.24" y="106.50" width="49.76" height="7.40" fill="#4560A4"/>
<rect x="183.69" y="106.50" width="14.43" height="7.40" fill="#4B7DB7"/>
<rect x="197.82" y="106.50" width="7.37" height="7.40" fill="#4560A4"/>
<rect x="204.89" y="106.50" width="21.50" height="7.40" fill="#5A9EC8"/>
<rect x="226.08" y="106.50" width="21.50" height="7.40" fill="#4B7DB7"/>
<rect x="247.28" y="106.50" width="21.50" height="7.40" fill="#5A9EC8"/>
<rect x="268.47" y="106.50" width="7.37" height="7.40" fill="#64D6C4"/>
<rect x="275.54" y="106.50" width="28.56" height="7.40" fill="#5A9EC8"/>
<rect x="303.80" y="106.50" width="7.37" height="7.40" fill="#6474A8"/>
<rect x="310.86" y="106.50" width="7.37" height="7.40" fill="#5568A5"/>
<rect x="317.93" y="106.50" width="7.37" height="7.40" fill="#4560A4"/>
<rect x="324.99" y="106.50" width="7.37" height="7.40" fill="#5568A5"/>
<rect x="134.24" y="113.60" width="42.69" height="7.40" fill="#4560A4"/>
<rect x="176.62" y="113.60" width="28.56" height="7.40" fill="#4B7DB7"/>
<rect x="204.89" y="113.60" width="21.50" height="7.40" fill="#5A9EC8"/>
<rect x="226.08" y="113.60" width="21.50" height="7.40" fill="#4B7DB7"/>
<rect x="247.28" y="113.60" width="21.50" height="7.40" fill="#5A9EC8"/>
<rect x="268.47" y="113.60" width="7.37" height="7.40" fill="#64D6C4"/>
<rect x="275.54" y="113.60" width="14.43" height="7.40" fill="#5A9EC8"/>
<rect x="289.67" y="113.60" width="7.37" height="7.40" fill="#5568A5"/>
<rect x="296.73" y="113.60" width="21.50" height="7.40" fill="#4560A4"/>
<rect x="324.99" y="113.60" width="7.37" height="7.40" fill="#5568A5"/>
<rect x="134.24" y="120.70" width="7.37" height="7.40" fill="#5568A5"/>
<rect x="141.30" y="120.70" width="35.62" height="7.40" fill="#4560A4"/>
<rect x="176.62" y="120.70" width="35.62" height="7.40" fill="#4B7DB7"/>
<rect x="211.95" y="120.70" width="14.43" height="7.40" fill="#5A9EC8"/>
<rect x="226.08" y="120.70" width="7.37" height="7.40" fill="#4560A4"/>
<rect x="233.15" y="120.70" width="21.50" height="7.40" fill="#4B7DB7"/>
<rect x="254.34" y="120.70" width="7.37" height="7.40" fill="#5A9EC8"/>
<rect x="261.41" y="120.70" width="7.37" height="7.40" fill="#64D6C4"/>
<rect x="268.47" y="120.70" width="21.50" height="7.40" fill="#5A9EC8"/>
<rect x="289.67" y="120.70" width="7.37" height="7.40" fill="#5568A5"/>
<rect x="296.73" y="120.70" width="21.50" height="7.40" fill="#4560A4"/>
<rect x="127.17" y="127.80" width="21.50" height="7.40" fill="#5568A5"/>
<rect x="148.37" y="127.80" width="28.56" height="7.40" fill="#4560A4"/>
<rect x="176.62" y="127.80" width="35.62" height="7.40" fill="#4B7DB7"/>
<rect x="211.95" y="127.80" width="14.43" height="7.40" fill="#5A9EC8"/>
<rect x="226.08" y="127.80" width="7.37" height="7.40" fill="#4560A4"/>
<rect x="233.15" y="127.80" width="7.37" height="7.40" fill="#4B7DB7"/>
<rect x="240.21" y="127.80" width="21.50" height="7.40" fill="#66C0DC"/>
<rect x="261.41" y="127.80" width="7.37" height="7.40" fill="#52DDA6"/>
<rect x="268.47" y="127.80" width="7.37" height="7.40" fill="#4B7DB7"/>
<rect x="275.54" y="127.80" width="7.37" height="7.40" fill="#5A9EC8"/>
<rect x="282.60" y="127.80" width="7.37" height="7.40" fill="#4560A4"/>
<rect x="289.67" y="127.80" width="7.37" height="7.40" fill="#5568A5"/>
<rect x="296.73" y="127.80" width="21.50" height="7.40" fill="#4560A4"/>
<rect x="127.17" y="134.90" width="35.62" height="7.40" fill="#5568A5"/>
<rect x="162.50" y="134.90" width="21.50" height="7.40" fill="#4560A4"/>
<rect x="183.69" y="134.90" width="21.50" height="7.40" fill="#5568A5"/>
<rect x="204.89" y="134.90" width="14.43" height="7.40" fill="#5A9EC8"/>
<rect x="219.02" y="134.90" width="7.37" height="7.40" fill="#4560A4"/>
<rect x="226.08" y="134.90" width="14.43" height="7.40" fill="#4B7DB7"/>
<rect x="240.21" y="134.90" width="35.62" height="7.40" fill="#66C0DC"/>
<rect x="275.54" y="134.90" width="7.37" height="7.40" fill="#5A9EC8"/>
<rect x="282.60" y="134.90" width="7.37" height="7.40" fill="#4B7DB7"/>
<rect x="289.67" y="134.90" width="21.50" height="7.40" fill="#4560A4"/>
<rect x="127.17" y="142.00" width="35.62" height="7.40" fill="#5568A5"/>
<rect x="162.50" y="142.00" width="28.56" height="7.40" fill="#4560A4"/>
<rect x="190.76" y="142.00" width="14.43" height="7.40" fill="#5568A5"/>
<rect x="204.89" y="142.00" width="7.37" height="7.40" fill="#4560A4"/>
<rect x="211.95" y="142.00" width="7.37" height="7.40" fill="#5568A5"/>
<rect x="219.02" y="142.00" width="7.37" height="7.40" fill="#4560A4"/>
<rect x="226.08" y="142.00" width="7.37" height="7.40" fill="#4B7DB7"/>
<rect x="233.15" y="142.00" width="35.62" height="7.40" fill="#66C0DC"/>
<rect x="268.47" y="142.00" width="14.43" height="7.40" fill="#4B7DB7"/>
<rect x="282.60" y="142.00" width="14.43" height="7.40" fill="#66C0DC"/>
<rect x="296.73" y="142.00" width="14.43" height="7.40" fill="#4560A4"/>
<rect x="127.17" y="149.10" width="7.37" height="7.40" fill="#5568A5"/>
<rect x="141.30" y="149.10" width="14.43" height="7.40" fill="#5568A5"/>
<rect x="155.43" y="149.10" width="28.56" height="7.40" fill="#4560A4"/>
<rect x="183.69" y="149.10" width="7.37" height="7.40" fill="#5568A5"/>
<rect x="190.76" y="149.10" width="7.37" height="7.40" fill="#4B7DB7"/>
<rect x="197.82" y="149.10" width="7.37" height="7.40" fill="#5568A5"/>
<rect x="211.95" y="149.10" width="7.37" height="7.40" fill="#5568A5"/>
<rect x="219.02" y="149.10" width="7.37" height="7.40" fill="#4560A4"/>
<rect x="226.08" y="149.10" width="7.37" height="7.40" fill="#4B7DB7"/>
<rect x="233.15" y="149.10" width="35.62" height="7.40" fill="#66C0DC"/>
<rect x="268.47" y="149.10" width="7.37" height="7.40" fill="#4B7DB7"/>
<rect x="275.54" y="149.10" width="14.43" height="7.40" fill="#66C0DC"/>
<rect x="289.67" y="149.10" width="7.37" height="7.40" fill="#4560A4"/>
<rect x="296.73" y="149.10" width="7.37" height="7.40" fill="#5568A5"/>
<rect x="303.80" y="149.10" width="7.37" height="7.40" fill="#6474A8"/>
<rect x="310.86" y="149.10" width="7.37" height="7.40" fill="#5568A5"/>
<rect x="127.17" y="156.20" width="7.37" height="7.40" fill="#5568A5"/>
<rect x="141.30" y="156.20" width="14.43" height="7.40" fill="#5568A5"/>
<rect x="169.56" y="156.20" width="14.43" height="7.40" fill="#4560A4"/>
<rect x="183.69" y="156.20" width="7.37" height="7.40" fill="#4B7DB7"/>
<rect x="190.76" y="156.20" width="14.43" height="7.40" fill="#5568A5"/>
<rect x="211.95" y="156.20" width="7.37" height="7.40" fill="#5568A5"/>
<rect x="219.02" y="156.20" width="7.37" height="7.40" fill="#4B7DB7"/>
<rect x="226.08" y="156.20" width="21.50" height="7.40" fill="#4560A4"/>
<rect x="247.28" y="156.20" width="21.50" height="7.40" fill="#66C0DC"/>
<rect x="268.47" y="156.20" width="7.37" height="7.40" fill="#4B7DB7"/>
<rect x="275.54" y="156.20" width="14.43" height="7.40" fill="#66C0DC"/>
<rect x="289.67" y="156.20" width="7.37" height="7.40" fill="#4560A4"/>
<rect x="296.73" y="156.20" width="7.37" height="7.40" fill="#5568A5"/>
<rect x="303.80" y="156.20" width="14.43" height="7.40" fill="#6474A8"/>
<rect x="120.11" y="163.30" width="7.37" height="7.40" fill="#5568A5"/>
<rect x="134.24" y="163.30" width="14.43" height="7.40" fill="#5568A5"/>
<rect x="162.50" y="163.30" width="7.37" height="7.40" fill="#4560A4"/>
<rect x="169.56" y="163.30" width="7.37" height="7.40" fill="#6474A8"/>
<rect x="176.62" y="163.30" width="21.50" height="7.40" fill="#4560A4"/>
<rect x="197.82" y="163.30" width="7.37" height="7.40" fill="#4B7DB7"/>
<rect x="211.95" y="163.30" width="7.37" height="7.40" fill="#5568A5"/>
<rect x="219.02" y="163.30" width="7.37" height="7.40" fill="#4560A4"/>
<rect x="226.08" y="163.30" width="14.43" height="7.40" fill="#4B7DB7"/>
<rect x="240.21" y="163.30" width="14.43" height="7.40" fill="#66C0DC"/>
<rect x="254.34" y="163.30" width="7.37" height="7.40" fill="#4B7DB7"/>
<rect x="261.41" y="163.30" width="7.37" height="7.40" fill="#5A9EC8"/>
<rect x="268.47" y="163.30" width="21.50" height="7.40" fill="#66C0DC"/>
<rect x="289.67" y="163.30" width="7.37" height="7.40" fill="#4560A4"/>
<rect x="296.73" y="163.30" width="7.37" height="7.40" fill="#5568A5"/>
<rect x="303.80" y="163.30" width="14.43" height="7.40" fill="#6474A8"/>
<rect x="120.11" y="170.40" width="7.37" height="7.40" fill="#5568A5"/>
<rect x="134.24" y="170.40" width="14.43" height="7.40" fill="#5568A5"/>
<rect x="162.50" y="170.40" width="7.37" height="7.40" fill="#4560A4"/>
<rect x="169.56" y="170.40" width="7.37" height="7.40" fill="#6474A8"/>
<rect x="176.62" y="170.40" width="14.43" height="7.40" fill="#4560A4"/>
<rect x="211.95" y="170.40" width="7.37" height="7.40" fill="#4560A4"/>
<rect x="219.02" y="170.40" width="21.50" height="7.40" fill="#4B7DB7"/>
<rect x="240.21" y="170.40" width="14.43" height="7.40" fill="#66C0DC"/>
<rect x="254.34" y="170.40" width="7.37" height="7.40" fill="#4B7DB7"/>
<rect x="261.41" y="170.40" width="7.37" height="7.40" fill="#5A9EC8"/>
<rect x="268.47" y="170.40" width="7.37" height="7.40" fill="#4B7DB7"/>
<rect x="282.60" y="170.40" width="7.37" height="7.40" fill="#4560A4"/>
<rect x="289.67" y="170.40" width="21.50" height="7.40" fill="#5568A5"/>
<rect x="155.43" y="177.50" width="7.37" height="7.40" fill="#4560A4"/>
<rect x="162.50" y="177.50" width="7.37" height="7.40" fill="#6474A8"/>
<rect x="169.56" y="177.50" width="7.37" height="7.40" fill="#5568A5"/>
<rect x="176.62" y="177.50" width="14.43" height="7.40" fill="#4560A4"/>
<rect x="226.08" y="177.50" width="7.37" height="7.40" fill="#5568A5"/>
<rect x="233.15" y="177.50" width="14.43" height="7.40" fill="#66C0DC"/>
<rect x="247.28" y="177.50" width="14.43" height="7.40" fill="#4B7DB7"/>
<rect x="261.41" y="177.50" width="7.37" height="7.40" fill="#5A9EC8"/>
<rect x="268.47" y="177.50" width="7.37" height="7.40" fill="#4560A4"/>
<rect x="282.60" y="177.50" width="7.37" height="7.40" fill="#5568A5"/>
<rect x="303.80" y="177.50" width="7.37" height="7.40" fill="#5568A5"/>
<rect x="169.56" y="184.60" width="14.43" height="7.40" fill="#4560A4"/>
<rect x="226.08" y="184.60" width="7.37" height="7.40" fill="#5568A5"/>
<rect x="233.15" y="184.60" width="7.37" height="7.40" fill="#4560A4"/>
<rect x="240.21" y="184.60" width="7.37" height="7.40" fill="#66C0DC"/>
<rect x="247.28" y="184.60" width="7.37" height="7.40" fill="#4B7DB7"/>
<rect x="254.34" y="184.60" width="7.37" height="7.40" fill="#5A9EC8"/>
<rect x="261.41" y="184.60" width="7.37" height="7.40" fill="#4B7DB7"/>
<rect x="275.54" y="184.60" width="7.37" height="7.40" fill="#5568A5"/>
<rect x="219.02" y="191.70" width="7.37" height="7.40" fill="#6474A8"/>
<rect x="226.08" y="191.70" width="7.37" height="7.40" fill="#5568A5"/>
<rect x="233.15" y="191.70" width="14.43" height="7.40" fill="#4560A4"/>
<rect x="261.41" y="191.70" width="7.37" height="7.40" fill="#4B7DB7"/>
<rect x="275.54" y="191.70" width="7.37" height="7.40" fill="#5568A5"/>
<rect x="219.02" y="198.80" width="7.37" height="7.40" fill="#6474A8"/>
<rect x="226.08" y="198.80" width="7.37" height="7.40" fill="#5568A5"/>
<rect x="233.15" y="198.80" width="7.37" height="7.40" fill="#4560A4"/>
<rect x="275.54" y="198.80" width="7.37" height="7.40" fill="#5568A5"/>
<rect x="219.02" y="205.90" width="7.37" height="7.40" fill="#6474A8"/>
<rect x="226.08" y="205.90" width="7.37" height="7.40" fill="#5568A5"/>
<rect x="233.15" y="205.90" width="7.37" height="7.40" fill="#4560A4"/>
</g>
<g clip-path="url(#bb)" stroke="#8a8478" stroke-opacity="0.6" stroke-width="0.7" fill="none" stroke-linejoin="round"><path d="M145.9,45.1 C145.9,45.1 131.4,49.3 125.7,51.4 C120.0,53.5 115.2,55.2 111.8,57.7 C108.3,60.2 106.4,63.1 105.0,66.5 C103.6,69.9 103.4,74.1 103.5,77.9 C103.6,81.7 104.1,85.7 105.5,89.3 C106.9,92.9 110.2,96.5 111.8,99.4 C113.4,102.4 115.1,104.5 115.1,107.0 C115.1,109.5 114.0,112.3 111.8,114.6 C109.6,116.9 105.1,119.0 101.7,120.9 C98.3,122.8 94.0,123.6 91.6,125.9 C89.2,128.2 88.1,131.0 87.3,134.8 C86.5,138.6 86.5,144.9 86.8,148.7 C87.1,152.5 87.7,154.3 89.1,157.5 C90.5,160.7 93.3,163.8 95.4,167.6 C97.5,171.4 98.8,175.5 101.7,180.3 C104.7,185.2 109.9,191.2 113.1,196.7 C116.3,202.2 118.9,208.5 120.7,213.1 C122.5,217.7 124.2,221.1 123.9,224.5 C123.6,227.9 120.1,229.9 118.6,233.3 C117.1,236.7 116.3,240.5 115.1,244.7 C113.9,248.9 111.3,258.6 111.3,258.6"/><path d="M111.3,258.6 C111.3,258.6 102.0,257.5 97.9,257.3 C93.8,257.1 90.3,256.5 86.5,257.3 C82.7,258.1 78.4,261.2 75.2,262.4 C72.0,263.6 67.6,264.4 67.6,264.4"/><path d="M111.3,258.6 C111.3,258.6 115.2,268.1 116.9,272.5 C118.6,276.9 120.5,281.3 121.4,285.1 C122.3,288.9 122.3,290.4 122.4,295.2 C122.5,300.0 122.2,313.9 122.2,313.9"/><path d="M587.1,45.1 C587.1,45.1 587.3,49.7 587.6,51.8 C587.9,53.9 587.9,56.2 588.8,57.7 C589.7,59.2 591.9,59.7 593.0,61.0 C594.1,62.3 594.8,63.6 595.5,65.3 C596.2,67.0 595.9,69.3 597.2,71.1 C598.5,72.9 600.7,74.9 603.1,76.2 C605.5,77.5 607.6,78.1 611.5,78.7 C615.4,79.3 622.2,78.8 626.7,79.6 C631.2,80.4 635.4,81.3 638.5,83.4 C641.6,85.5 643.4,88.5 645.2,92.2 C647.0,95.9 648.0,101.5 649.4,105.7 C650.8,109.9 651.8,114.2 653.6,117.4 C655.4,120.6 660.0,125.0 660.0,125.0"/><path d="M603.1,45.1 C603.1,45.1 602.9,47.6 602.3,49.3 C601.7,51.0 600.7,53.7 599.7,55.2 C598.7,56.7 597.5,57.5 596.4,58.5 C595.3,59.5 593.0,61.0 593.0,61.0"/><path d="M655.5,120.9 C655.5,120.9 663.9,131.0 663.9,131.0 C663.9,131.0 661.3,140.0 660.5,144.5 C659.7,149.0 658.9,152.3 658.9,157.9 C658.9,163.5 661.6,173.3 660.5,178.1 C659.4,182.9 654.6,184.5 652.1,186.6 C649.6,188.7 645.4,190.9 645.4,190.9"/><path d="M590.0,177.7 C590.0,177.7 576.1,177.7 576.1,177.7 C576.1,177.7 575.8,183.0 573.5,186.6 C571.2,190.2 566.2,195.0 562.2,199.2 C558.2,203.4 553.7,208.0 549.5,211.8 C545.3,215.6 540.9,219.2 536.9,222.0 C532.9,224.8 528.2,226.0 525.5,228.3 C522.8,230.6 521.6,233.2 520.5,235.9 C519.4,238.6 520.0,241.5 518.7,244.7 C517.4,247.8 515.4,251.9 512.9,254.8 C510.4,257.8 506.7,260.7 504.0,262.4 C501.3,264.1 500.0,264.7 496.5,264.9 C493.0,265.1 483.1,263.4 483.1,263.4 C483.1,263.4 481.5,267.2 480.8,270.0 C480.1,272.8 479.2,276.3 478.8,280.1 C478.4,283.9 478.5,287.1 478.3,292.7 C478.1,298.3 477.8,313.9 477.8,313.9"/><path d="M591.5,177.1 C591.5,177.1 611.2,178.2 618.5,179.8 C625.8,181.4 630.8,184.8 635.3,186.6 C639.8,188.4 641.5,189.5 645.4,190.9 C649.3,192.3 653.8,193.9 658.9,195.0 C664.0,196.1 675.7,197.3 675.7,197.3"/><path d="M660.0,196.7 C660.0,196.7 668.4,197.1 672.6,197.9 C676.8,198.7 680.7,199.8 685.3,201.7 C689.9,203.6 695.8,207.0 700.4,209.3 C705.0,211.6 708.9,213.3 713.1,215.6 C717.3,217.9 721.9,220.7 725.7,223.2 C729.5,225.7 732.8,228.1 735.8,230.8 C738.8,233.5 741.1,236.8 743.4,239.6 C745.7,242.4 749.7,247.7 749.7,247.7 C749.7,247.7 757.5,242.4 761.1,239.6 C764.7,236.8 767.0,233.0 771.2,230.8 C775.4,228.6 782.0,228.6 786.4,226.5 C790.8,224.4 794.7,219.9 797.7,218.2 C800.7,216.5 801.4,215.7 804.6,216.1 C807.8,216.5 811.7,219.6 816.7,220.7 C821.7,221.8 829.4,222.3 834.4,222.5 C839.4,222.7 843.4,222.3 847.0,222.0 C850.6,221.7 853.4,222.4 855.9,220.7 C858.4,219.0 860.4,214.5 862.2,211.8 C864.0,209.1 865.9,206.8 866.5,204.3 C867.1,201.8 866.7,199.2 866.0,196.7 C865.3,194.2 863.0,191.6 862.2,189.1 C861.4,186.6 860.8,184.0 861.4,181.5 C862.0,179.0 864.0,176.1 866.0,173.9 C868.0,171.7 870.8,169.7 873.5,168.4 C876.2,167.1 878.4,166.2 882.4,165.9 C886.4,165.6 893.0,163.8 897.6,166.4 C902.2,169.0 905.2,175.6 910.2,181.5 C915.2,187.4 922.4,195.6 927.9,201.7 C933.4,207.8 938.8,214.1 943.0,218.2 C947.2,222.3 950.4,224.8 953.2,226.5 C956.0,228.2 960.0,228.3 960.0,228.3"/><path d="M122.2,314.0 C122.2,314.0 122.0,319.1 122.7,321.6 C123.4,324.1 124.4,327.2 126.2,329.2 C128.0,331.2 130.4,332.8 133.3,333.7 C136.2,334.6 140.0,335.0 143.4,334.7 C146.8,334.4 150.1,332.7 153.5,331.7 C156.9,330.7 160.4,329.0 163.6,328.7 C166.8,328.4 169.8,329.1 172.5,329.7 C175.2,330.3 178.0,331.9 180.0,332.2 C182.0,332.4 182.6,330.6 184.3,331.2 C186.0,331.8 187.9,333.7 190.1,335.5 C192.3,337.3 194.9,340.1 197.7,341.8 C200.4,343.5 203.4,344.9 206.6,345.6 C209.8,346.4 213.5,346.6 216.7,346.3 C219.8,346.0 222.8,345.2 225.5,343.8 C228.2,342.4 230.8,340.4 233.1,338.0 C235.4,335.6 237.6,332.1 239.4,329.7 C241.2,327.3 244.0,323.6 244.0,323.6 C244.0,323.6 249.1,325.9 252.1,327.1 C255.1,328.3 258.6,330.0 262.2,330.7 C265.8,331.4 270.1,331.7 273.5,331.2 C276.9,330.7 279.6,328.9 282.4,327.9 C285.2,326.8 290.5,324.9 290.5,324.9 C290.5,324.9 294.1,330.1 296.3,333.0 C298.5,335.9 300.9,339.4 303.9,342.3 C306.8,345.2 314.0,350.1 314.0,350.1"/><path d="M360.0,343.8 C360.0,343.8 356.4,343.4 353.2,343.1 C349.9,342.9 344.1,342.3 340.5,342.3 C336.9,342.3 334.6,342.6 331.7,343.1 C328.8,343.7 325.8,344.4 322.8,345.6 C319.9,346.8 317.1,348.4 314.0,350.1 C310.9,351.8 306.8,353.5 303.9,355.7 C300.9,357.9 298.2,360.9 296.3,363.3 C294.4,365.7 292.9,367.3 292.5,370.1 C292.1,372.9 293.2,376.7 293.8,380.2 C294.4,383.7 295.2,387.6 296.3,391.1 C297.4,394.6 299.0,397.4 300.1,401.2 C301.2,405.0 301.6,410.2 303.1,413.8 C304.6,417.4 306.8,420.0 308.9,422.7 C311.0,425.4 314.4,426.4 315.7,430.2 C317.0,434.0 316.4,439.9 316.5,445.4 C316.6,450.9 316.2,458.1 316.0,463.1 C315.8,468.1 315.2,475.2 315.2,475.2 C315.2,475.2 310.8,475.0 308.9,474.7 C307.0,474.4 306.2,473.5 303.9,473.2 C301.6,472.9 297.5,472.9 295.0,472.7 C292.5,472.5 290.5,472.2 288.7,471.9 C286.9,471.6 284.4,470.7 284.4,470.7 C284.4,470.7 284.6,464.3 284.2,461.8 C283.8,459.3 283.1,457.4 281.9,455.5 C280.7,453.6 278.8,451.8 276.8,450.5 C274.8,449.2 272.2,448.4 269.8,447.9 C267.4,447.4 264.9,447.2 262.2,447.4 C259.4,447.6 256.4,448.0 253.3,449.2 C250.2,450.4 246.4,452.0 243.7,454.3 C241.0,456.6 239.3,459.3 236.9,463.1 C234.5,466.9 231.8,472.6 229.3,477.0 C226.8,481.4 224.1,485.4 221.7,489.6 C219.3,493.8 216.3,498.9 214.7,502.3 C213.1,505.7 212.6,506.3 212.1,509.9 C211.6,513.5 211.8,519.5 211.6,523.8 C211.4,528.1 210.9,535.9 210.9,535.9 C210.9,535.9 206.4,537.3 204.0,538.9 C201.6,540.5 198.8,542.9 196.5,545.2 C194.2,547.5 192.0,550.0 190.1,552.8 C188.2,555.5 187.2,558.8 185.1,561.7 C183.0,564.7 180.2,567.5 177.5,570.5 C174.8,573.5 171.4,577.0 168.7,579.4 C166.0,581.8 163.4,583.5 161.1,584.9 C158.8,586.3 154.8,587.9 154.8,587.9"/><path d="M477.8,314.0 C477.8,314.0 478.0,319.3 477.5,321.6 C477.0,323.9 476.5,325.9 475.0,327.9 C473.5,329.9 471.2,331.8 468.7,333.7 C466.2,335.6 462.1,337.3 459.8,339.3 C457.5,341.3 456.0,342.9 454.8,345.6 C453.6,348.3 452.7,355.7 452.7,355.7"/><path d="M360.0,344.3 C360.0,344.3 364.0,345.0 366.3,346.3 C368.6,347.6 371.4,349.9 373.9,351.9 C376.4,353.9 378.8,356.6 381.5,358.2 C384.2,359.8 386.7,360.8 390.3,361.5 C393.9,362.2 398.4,362.2 403.0,362.5 C407.6,362.8 413.1,363.2 418.1,363.3 C423.2,363.4 429.1,363.5 433.3,363.3 C437.5,363.1 440.7,362.7 443.4,362.0 C446.1,361.3 448.1,360.1 449.7,359.0 C451.2,357.9 452.7,355.7 452.7,355.7 C452.7,355.7 455.1,359.4 457.3,360.8 C459.5,362.2 463.0,363.2 466.1,364.0 C469.2,364.8 472.8,365.1 476.2,365.3 C479.6,365.5 483.4,365.8 486.4,365.3 C489.3,364.8 491.2,363.6 493.9,362.5 C496.6,361.4 499.9,359.7 502.8,359.0 C505.8,358.3 508.7,358.1 511.6,358.2 C514.6,358.3 517.8,358.4 520.5,359.5 C523.2,360.6 525.8,362.6 528.1,364.5 C530.4,366.4 532.7,369.3 534.4,370.9 C536.1,372.5 538.2,373.9 538.2,373.9 C538.2,373.9 543.9,371.7 547.0,370.9 C550.1,370.1 552.5,369.4 557.1,369.1 C561.7,368.8 567.6,368.9 574.8,369.1 C582.0,369.3 592.1,369.7 600.1,370.1 C608.1,370.5 617.5,370.8 622.8,371.4 C628.1,371.9 629.2,372.2 631.7,373.4 C634.2,374.6 636.1,376.1 638.0,378.4 C639.9,380.7 640.9,383.9 643.0,387.3 C645.1,390.7 647.8,394.5 650.6,398.7 C653.4,402.9 660.0,412.6 660.0,412.6"/><path d="M660.0,412.6 C660.0,412.6 662.1,420.1 663.8,423.9 C665.5,427.7 667.8,430.9 670.1,435.3 C672.4,439.7 676.2,445.4 677.7,450.5 C679.2,455.6 678.6,460.8 679.0,465.6 C679.4,470.4 679.0,475.1 680.2,479.5 C681.5,483.9 684.2,487.8 686.5,492.2 C688.8,496.6 691.8,502.3 694.1,506.1 C696.4,509.9 698.3,513.0 700.4,514.9 C702.5,516.8 703.5,517.0 706.8,517.4 C710.0,517.8 719.9,517.4 719.9,517.4 C719.9,517.4 722.8,526.2 724.4,531.3 C726.0,536.4 728.4,544.9 729.5,547.8 C730.6,550.7 730.8,548.5 730.8,548.5"/><path d="M685.3,587.9 C685.3,587.9 688.2,582.5 690.3,579.4 C692.4,576.3 694.9,572.4 697.9,569.2 C700.9,566.0 704.2,562.9 708.0,560.4 C711.8,557.9 716.9,556.1 720.7,554.1 C724.5,552.1 727.9,549.0 730.8,548.5 C733.7,548.0 735.8,550.3 738.3,550.8 C740.8,551.3 743.1,552.0 745.9,551.6 C748.6,551.2 752.3,548.3 754.8,548.3 C757.3,548.3 758.8,549.6 761.1,551.6 C763.4,553.6 766.0,557.0 768.7,560.4 C771.4,563.8 775.0,568.2 777.5,571.8 C780.0,575.4 782.2,579.2 783.8,581.9 C785.4,584.6 786.9,587.9 786.9,587.9"/><path d="M154.8,588.0 C154.8,588.0 149.5,590.6 145.9,591.8 C142.3,593.0 137.3,594.3 133.3,595.1 C129.3,595.9 121.9,596.8 121.9,596.8 C121.9,596.8 122.1,604.6 122.7,608.2 C123.3,611.8 123.9,614.9 125.7,618.3 C127.5,621.7 130.8,625.0 133.3,628.4 C135.8,631.8 139.4,635.5 140.9,638.5 C142.4,641.5 142.3,642.7 142.1,646.1 C141.9,649.5 140.5,654.6 139.6,658.8 C138.7,663.0 137.4,667.9 136.6,671.4 C135.8,674.9 134.6,679.5 134.6,679.5"/><path d="M67.6,703.0 C67.6,703.0 72.7,708.5 75.2,710.6 C77.7,712.7 80.0,714.5 82.7,715.6 C85.4,716.7 88.6,717.7 91.6,717.4 C94.5,717.1 97.7,715.7 100.4,713.9 C103.1,712.1 105.2,709.7 108.0,706.8 C110.8,703.9 114.0,699.7 116.9,696.7 C119.9,693.8 122.8,692.0 125.7,689.1 C128.7,686.2 130.8,681.3 134.6,679.5 C138.4,677.7 144.3,678.8 148.5,678.2 C152.7,677.6 156.4,677.4 159.8,675.9 C163.2,674.4 165.5,671.5 168.7,669.4 C171.9,667.3 175.4,664.4 178.8,663.3 C182.2,662.2 185.1,662.6 188.9,662.6 C192.7,662.6 197.8,662.8 201.5,663.1 C205.2,663.4 210.9,664.3 210.9,664.3 C210.9,664.3 214.5,658.7 216.7,656.2 C218.9,653.7 221.4,650.8 224.3,649.4 C227.2,648.0 230.6,648.1 234.4,647.9 C238.2,647.7 243.2,648.2 247.0,648.1 C250.8,648.0 254.6,648.1 257.1,647.4 C259.6,646.6 260.4,644.3 262.2,643.6 C264.0,642.9 267.7,643.1 267.7,643.1 C267.7,643.1 268.7,647.7 269.8,649.9 C270.9,652.1 274.0,653.5 274.3,656.2 C274.6,658.9 271.8,662.5 271.8,666.3 C271.8,670.1 274.3,679.0 274.3,679.0 C274.3,679.0 278.1,680.7 279.9,681.5 C281.7,682.3 282.8,684.0 284.9,684.0 C287.0,684.0 290.1,682.2 292.5,681.5 C294.9,680.8 299.6,679.5 299.6,679.5 C299.6,679.5 300.2,684.4 301.3,686.6 C302.4,688.8 305.1,690.8 306.4,692.9 C307.7,695.0 307.4,697.7 308.9,699.2 C310.4,700.7 313.4,700.7 315.2,701.7 C317.0,702.8 319.8,705.5 319.8,705.5 C319.8,705.5 317.9,709.9 316.5,711.8 C315.1,713.7 311.5,716.9 311.5,716.9 C311.5,716.9 314.0,720.7 314.0,720.7 C314.0,720.7 318.4,719.0 320.3,718.1 C322.2,717.2 325.4,715.6 325.4,715.6 C325.4,715.6 328.2,718.6 328.6,720.7 C329.0,722.8 327.6,726.4 327.9,728.3 C328.2,730.2 328.4,731.0 330.4,732.0 C332.4,733.0 340.0,734.6 340.0,734.6 C340.0,734.6 341.6,732.3 343.0,730.8 C344.4,729.3 348.1,725.7 348.1,725.7 C348.1,725.7 360.0,728.3 360.0,728.3"/><path d="M360.0,728.3 C360.0,728.3 365.4,728.2 368.8,729.5 C372.2,730.8 376.2,733.5 380.2,735.8 C384.2,738.1 389.3,741.1 392.9,743.4 C396.5,745.7 399.2,747.6 401.7,749.7 C404.2,751.8 404.8,754.0 408.0,756.1 C411.2,758.2 416.5,760.5 420.7,762.4 C424.9,764.3 430.1,765.1 433.3,767.4 C436.5,769.7 437.5,772.9 439.6,776.3 C441.7,779.7 444.3,784.0 445.9,787.6 C447.5,791.2 448.8,794.4 449.0,797.8 C449.2,801.2 448.6,804.1 447.2,807.9 C445.8,811.7 443.0,816.1 440.9,820.5 C438.8,824.9 436.0,830.2 434.6,834.4 C433.2,838.6 433.0,841.2 432.8,845.8 C432.6,850.4 433.3,861.9 433.3,861.9"/><path d="M660.0,659.5 C660.0,659.5 653.9,661.7 650.6,663.3 C647.4,664.9 643.2,666.7 640.5,668.9 C637.8,671.1 636.5,673.8 634.2,676.5 C631.9,679.2 628.5,682.4 626.6,685.3 C624.7,688.2 623.8,691.4 622.8,694.1 C621.8,696.8 620.3,701.7 620.3,701.7 C620.3,701.7 613.8,703.6 610.2,704.2 C606.6,704.8 602.6,705.1 598.8,705.5 C595.0,705.9 591.0,705.7 587.4,706.3 C583.8,706.9 580.2,708.3 577.3,709.3 C574.4,710.3 569.8,712.3 569.8,712.3 C569.8,712.3 569.9,720.4 569.8,724.5 C569.7,728.6 569.6,733.7 569.2,737.1 C568.8,740.5 568.4,742.2 567.2,744.7 C566.0,747.2 563.9,749.6 562.2,752.3 C560.5,755.0 557.7,757.7 557.1,761.1 C556.5,764.5 557.9,768.9 558.4,772.5 C558.9,776.1 559.8,778.6 560.2,782.6 C560.6,786.6 560.5,792.5 560.9,796.5 C561.3,800.5 562.9,806.6 562.9,806.6"/><path d="M562.9,806.6 C562.9,806.6 555.6,809.1 552.1,810.4 C548.6,811.7 545.8,812.5 542.0,814.2 C538.2,815.9 533.5,818.4 529.3,820.5 C525.1,822.6 520.9,824.7 516.7,826.8 C512.5,828.9 507.2,831.8 504.0,833.1 C500.8,834.4 500.6,834.2 497.7,834.4 C494.8,834.6 490.0,834.4 486.4,834.4 C482.8,834.4 479.1,833.8 476.2,834.4 C473.2,835.0 471.2,836.5 468.7,838.2 C466.2,839.9 463.9,842.0 461.1,844.5 C458.4,847.0 455.1,850.5 452.2,853.4 C449.2,856.3 443.4,861.9 443.4,861.9"/><path d="M562.9,806.6 C562.9,806.6 566.9,811.8 568.5,815.4 C570.1,819.0 571.0,823.9 572.3,828.1 C573.6,832.3 574.9,836.5 576.1,840.7 C577.3,844.9 578.6,849.9 579.4,853.4 C580.2,856.9 581.1,861.9 581.1,861.9"/><path d="M433.3,860.5 C433.3,860.5 434.0,868.6 434.0,868.6 C434.0,868.6 443.4,861.8 443.4,861.8"/><path d="M581.1,862.1 C581.1,862.1 581.4,861.7 581.6,865.6 C581.8,869.5 582.3,880.3 582.4,885.8 C582.5,891.3 582.4,898.5 582.4,898.5"/><path d="M685.3,588.0 C685.3,588.0 680.0,590.1 677.7,591.8 C675.4,593.5 673.0,595.6 671.4,598.1 C669.8,600.6 668.6,603.6 668.1,607.0 C667.6,610.4 667.9,615.2 668.1,618.3 C668.4,621.4 669.6,625.4 669.6,625.4 C669.6,625.4 675.5,626.1 679.0,627.2 C682.5,628.3 686.7,630.1 690.3,632.2 C693.9,634.3 697.6,637.3 700.4,639.8 C703.1,642.3 706.8,647.4 706.8,647.4 C706.8,647.4 703.6,653.7 701.7,656.2 C699.8,658.7 697.7,661.1 695.4,662.6 C693.1,664.1 690.8,665.0 687.8,665.1 C684.8,665.2 681.1,664.3 677.7,663.3 C674.3,662.2 670.6,659.6 667.6,658.8 C664.6,658.0 660.0,658.3 660.0,658.3"/><path d="M786.9,588.0 C786.9,588.0 789.6,591.0 791.4,591.8 C793.2,592.5 794.8,592.8 797.7,592.5 C800.7,592.2 805.5,590.6 809.1,590.0 C812.7,589.4 815.8,588.9 819.2,588.8 C822.6,588.7 826.3,588.2 829.3,589.3 C832.2,590.4 833.9,592.9 836.9,595.6 C839.9,598.3 844.3,602.6 847.0,605.7 C849.7,608.9 851.7,611.4 853.3,614.5 C854.9,617.6 856.0,621.2 856.6,624.6 C857.2,628.0 856.9,632.1 856.6,634.8 C856.3,637.5 856.6,638.9 854.6,640.6 C852.6,642.3 847.6,643.5 844.5,644.9 C841.4,646.2 836.1,648.7 836.1,648.7 C836.1,648.7 840.1,651.1 842.0,652.4 C843.9,653.6 847.5,656.2 847.5,656.2"/><path d="M951.0,223.4 C951.0,223.4 956.3,227.6 959.3,228.3 C962.3,229.0 966.2,228.5 969.0,227.5 C971.8,226.5 973.9,225.5 976.0,222.5 C978.1,219.5 979.4,212.9 981.5,209.5 C983.6,206.1 985.9,204.6 988.4,202.0 C990.9,199.4 996.7,193.7 996.7,193.7"/></g>
<path d="M475.8,573.4 L477.4,570.4 L480.9,566.9 L485.0,564.5 L489.2,561.6 L493.3,558.0 L497.4,556.0 L501.5,553.7 L499.8,549.8 L503.9,547.4 L508.0,545.1 L512.1,542.7 L513.9,543.9 L515.7,541.5 L518.6,542.7 L521.0,540.4 L520.4,536.2 L523.3,533.3 L525.7,534.5 L526.9,530.4 L529.2,526.8 L532.8,523.9 L536.9,522.1 L540.4,520.3 L542.2,517.4 L545.1,515.6 L547.5,516.2 L549.8,516.8 L552.8,519.2 L556.3,518.0 L559.3,519.2 L562.8,516.8 L561.6,512.1 L559.9,507.4 L566.3,504.4 L568.7,508.6 L570.5,512.1 L574.0,509.7 L576.9,506.8 L581.1,506.8 L586.4,509.1 L591.1,511.5 L593.4,514.4 L593.7,517.4 L592.3,519.7 L587.6,521.5 L582.8,522.7 L578.1,525.0 L573.4,526.8 L568.7,528.6 L564.6,530.9 L561.6,532.7 L562.2,539.2 L555.7,543.9 L552.8,538.6 L549.3,538.6 L545.1,540.4 L541.0,542.1 L539.2,545.1 L535.7,546.3 L531.0,548.6 L527.5,551.6 L524.5,555.1 L522.7,559.8 L522.2,564.5 L520.4,568.7 L521.0,572.2 L517.4,575.1 L516.3,578.7 L505.1,578.1 L503.3,574.0 L499.2,572.2 L494.5,572.8 L490.3,574.0 L485.6,575.7 L480.3,575.7 L476.8,575.7 Z" fill="#808080" fill-opacity="0.5" stroke="#000" stroke-opacity="0.7" stroke-width="1.5" stroke-linejoin="round"/>
<path d="M539.2,524.5 L540.4,520.3 L542.8,516.8 L545.7,515.0 L546.9,516.2 L544.0,518.0" fill="none" stroke="#222" stroke-width="1.5" stroke-linejoin="round"/>
<g stroke="#000" stroke-width="2.7" fill="none" stroke-linejoin="miter" stroke-miterlimit="4" stroke-linecap="butt">
<path d="M996.7,375.6 C996.7,375.6 994.0,382.1 991.2,385.3 C988.4,388.5 983.8,392.1 980.1,395.0 C976.4,397.9 972.5,400.0 969.0,402.5 C965.5,405.0 961.8,407.5 959.3,410.2 C956.8,412.9 955.3,415.5 953.8,418.5 C952.3,421.5 950.5,428.2 950.5,428.2 C950.5,428.2 951.6,426.9 951.6,426.9 C951.6,426.9 951.3,431.6 952.4,433.3 C953.5,435.0 955.7,436.6 958.0,437.2 C960.3,437.8 963.8,436.8 966.3,437.2 C968.8,437.6 971.3,438.1 973.2,439.4 C975.1,440.7 977.0,442.4 977.9,444.9 C978.8,447.4 979.0,451.1 978.7,454.6 C978.4,458.1 977.4,461.8 976.0,465.7 C974.6,469.6 972.5,473.5 970.4,478.1 C968.3,482.7 965.8,488.3 963.5,493.4 C961.2,498.5 958.5,504.2 956.6,508.6 C954.7,513.0 953.1,515.6 951.9,519.7 C950.6,523.9 949.9,529.4 949.1,533.5 C948.3,537.6 947.5,541.1 946.9,544.6 C946.3,548.1 946.4,551.1 945.5,554.3 C944.6,557.5 943.4,561.1 941.3,563.9 C939.2,566.7 936.0,568.6 933.0,570.9 C930.0,573.2 926.2,575.3 923.4,577.8 C920.6,580.3 918.5,583.1 916.4,586.1 C914.3,589.1 912.7,592.6 910.9,595.8 C909.1,599.0 907.7,602.5 905.4,605.5 C903.1,608.5 900.1,611.6 897.1,613.8 C894.1,616.0 891.1,617.6 887.4,618.8 C883.7,619.9 877.9,619.8 874.9,620.7 C871.9,621.6 871.7,622.2 869.4,624.3 C867.1,626.4 863.9,630.0 861.1,633.1 C858.3,636.2 854.5,639.6 852.8,642.8 C851.1,646.0 850.8,649.3 850.8,652.5 C850.8,655.7 851.5,659.2 852.8,662.2 C854.0,665.2 856.5,668.0 858.3,670.5 C860.1,673.0 862.6,674.9 863.8,677.4 C864.9,679.9 865.3,683.5 865.2,685.7 C865.1,687.9 863.4,690.4 863.4,690.4 C863.4,690.4 859.2,692.2 857.1,692.1 C855.0,692.0 852.9,690.6 850.8,689.6 C848.7,688.6 846.6,686.8 844.5,686.1 C842.4,685.4 840.7,684.8 838.2,685.3 C835.7,685.8 832.0,687.4 829.3,689.1 C826.5,690.8 823.5,692.9 821.7,695.4 C819.9,697.9 818.6,701.5 818.5,704.2 C818.4,706.9 819.2,709.3 821.0,711.8 C822.8,714.3 825.8,716.6 829.3,719.4 C832.8,722.1 837.8,725.3 842.0,728.3 C846.2,731.2 851.2,734.4 854.6,737.1 C858.0,739.8 860.5,742.0 862.2,744.7 C863.9,747.4 864.5,750.1 864.7,753.5 C864.9,756.9 864.2,761.3 863.4,764.9 C862.5,768.5 861.5,771.8 859.6,775.0 C857.7,778.2 854.6,780.9 852.1,783.9 C849.6,786.9 846.8,789.6 844.5,792.7 C842.2,795.9 840.7,799.8 838.2,802.8 C835.7,805.8 831.8,807.9 829.3,810.4 C826.8,812.9 824.8,815.3 823.0,818.0 C821.2,820.7 819.5,823.8 818.5,826.8 C817.5,829.8 817.1,832.3 817.2,835.7 C817.3,839.1 818.5,843.2 819.2,847.0 C820.0,850.8 820.2,853.2 821.7,858.4 C823.2,863.6 826.1,872.0 828.1,878.2 C830.1,884.5 832.4,890.4 833.9,895.9 C835.4,901.4 836.3,906.9 836.9,911.1 C837.5,915.3 837.8,917.0 837.7,921.2 C837.6,925.4 836.1,931.8 836.1,936.4 C836.1,941.0 837.2,945.2 837.7,949.0 C838.2,952.8 839.3,954.9 839.4,959.1 C839.5,963.3 838.6,969.2 838.2,974.3 C837.8,979.3 837.0,984.3 836.9,989.4 C836.8,994.5 837.7,1004.6 837.7,1004.6"/>
<path d="M837.7,1004.6 L836.1,1017.2 L845.2,1019.8 L845.7,1026.1 L837.7,1026.6 L839.4,1046.3"/>
<path d="M67.6,952.8 L71.4,986.9 L75.2,1026.6 L85.3,1036.2 L95.4,1046.3"/>
<path d="M225.5,1046.3 L234.4,1029.4 L264.7,1030.6 L279.4,1046.3"/>
<path d="M319.5,1046.3 L318.5,1025.6 L334.2,1010.9 L360.0,1002.6 L362.5,1002.6 L375.7,952.0 L405.5,961.6 L430.0,945.7 L428.7,915.6 L464.1,898.5 L473.0,903.5 L544.5,904.0 L545.7,894.2 L581.6,900.2 L595.5,888.3 L660.0,914.1 L668.8,941.4 L686.0,964.7 L705.5,960.9 L697.9,980.6 L744.7,994.5 L772.0,1025.3 L790.7,1020.5 L797.7,1027.8 L805.3,1024.8 L829.8,1046.3"/>
</g>
<path d="M520.05,771.2 A213.0,219.5 0 1 0 520.05,332.20000000000005 A213.0,219.5 0 1 0 520.05,771.2" fill="none" stroke="#000" stroke-width="4.0" stroke-dasharray="15.4 6.68"/>
<path d="M520.05,991.3000000000001 A426.0,439.6 0 1 0 520.05,112.10000000000002 A426.0,439.6 0 1 0 520.05,991.3000000000001" fill="none" stroke="#000" stroke-width="4.0" stroke-dasharray="15.4 6.68"/>
</g>
<g opacity="0.999">
<text transform="translate(284.09,122.90) scale(1.2269,1)" font-size="19.64" font-weight="bold">16</text>
<text transform="translate(318.08,122.90) scale(1.1753,1)" font-size="19.64" font-weight="bold">km</text>
<text transform="translate(404.47,317.65) scale(1.1371,1)" font-size="19.64" font-weight="bold">8</text>
<text transform="translate(424.28,317.65) scale(1.1753,1)" font-size="19.64" font-weight="bold">km</text>
</g>
<rect x="67.5" y="45.5" width="930.0" height="1001.0" fill="none" stroke="#000" stroke-width="1.1"/>
<g stroke="#000" stroke-width="1.1">
<line x1="125.5" y1="1046.5" x2="125.5" y2="1051.9"/>
<line x1="319.5" y1="1046.5" x2="319.5" y2="1051.9"/>
<line x1="513.5" y1="1046.5" x2="513.5" y2="1051.9"/>
<line x1="706.5" y1="1046.5" x2="706.5" y2="1051.9"/>
<line x1="900.5" y1="1046.5" x2="900.5" y2="1051.9"/>
<line x1="67.5" y1="925.5" x2="62.1" y2="925.5"/>
<line x1="67.5" y1="773.5" x2="62.1" y2="773.5"/>
<line x1="67.5" y1="622.5" x2="62.1" y2="622.5"/>
<line x1="67.5" y1="470.5" x2="62.1" y2="470.5"/>
<line x1="67.5" y1="318.5" x2="62.1" y2="318.5"/>
<line x1="67.5" y1="167.5" x2="62.1" y2="167.5"/>
</g>
<g opacity="0.999">
<text transform="translate(111.91,1069.90) scale(0.9903,1)" font-size="18.06" stroke="#000" stroke-width="0.2">6.0</text>
<text transform="translate(305.95,1069.90) scale(0.9380,1)" font-size="18.06" stroke="#000" stroke-width="0.2">6.1</text>
<text transform="translate(499.90,1069.90) scale(0.9999,1)" font-size="18.06" stroke="#000" stroke-width="0.2">6.2</text>
<text transform="translate(692.90,1069.90) scale(0.9941,1)" font-size="18.06" stroke="#000" stroke-width="0.2">6.3</text>
<text transform="translate(886.91,1069.90) scale(0.9827,1)" font-size="18.06" stroke="#000" stroke-width="0.2">6.4</text>
<text transform="translate(11.04,931.90) scale(1.0097,1)" font-size="18.06" stroke="#000" stroke-width="0.2">49.50</text>
<text transform="translate(11.04,779.90) scale(1.0107,1)" font-size="18.06" stroke="#000" stroke-width="0.2">49.55</text>
<text transform="translate(11.04,628.90) scale(1.0097,1)" font-size="18.06" stroke="#000" stroke-width="0.2">49.60</text>
<text transform="translate(11.04,476.90) scale(1.0107,1)" font-size="18.06" stroke="#000" stroke-width="0.2">49.65</text>
<text transform="translate(11.04,324.90) scale(1.0097,1)" font-size="18.06" stroke="#000" stroke-width="0.2">49.70</text>
<text transform="translate(11.04,173.90) scale(1.0107,1)" font-size="18.06" stroke="#000" stroke-width="0.2">49.75</text>
<text transform="translate(337.23,37.65) scale(1.0546,1)" font-size="37.28" stroke="#000" stroke-width="0.4">04.12.2025</text>
<text transform="translate(547.80,37.65) scale(1.0697,1)" font-size="37.28" stroke="#000" stroke-width="0.4">03:39</text>
<text transform="translate(658.20,37.65) scale(0.9002,1)" font-size="37.28" stroke="#000" stroke-width="0.4">UTC</text>
</g>
<g shape-rendering="crispEdges">
<rect x="1055.5" y="964.32" width="45.0" height="32.68" fill="#6474A8"/>
<rect x="1055.5" y="932.14" width="45.0" height="32.68" fill="#5568A5"/>
<rect x="1055.5" y="899.96" width="45.0" height="32.68" fill="#4560A4"/>
<rect x="1055.5" y="867.79" width="45.0" height="32.68" fill="#4B7DB7"/>
<rect x="1055.5" y="835.61" width="45.0" height="32.68" fill="#5A9EC8"/>
<rect x="1055.5" y="803.43" width="45.0" height="32.68" fill="#66C0DC"/>
<rect x="1055.5" y="771.25" width="45.0" height="32.68" fill="#64D6C4"/>
<rect x="1055.5" y="739.07" width="45.0" height="32.68" fill="#40D571"/>
<rect x="1055.5" y="706.89" width="45.0" height="32.68" fill="#14C81E"/>
<rect x="1055.5" y="674.71" width="45.0" height="32.68" fill="#12B41C"/>
<rect x="1055.5" y="642.54" width="45.0" height="32.68" fill="#10A018"/>
<rect x="1055.5" y="610.36" width="45.0" height="32.68" fill="#0E8C14"/>
<rect x="1055.5" y="578.18" width="45.0" height="32.68" fill="#0C7810"/>
<rect x="1055.5" y="546.00" width="45.0" height="32.68" fill="#0A640C"/>
<rect x="1055.5" y="513.82" width="45.0" height="32.68" fill="#467A0A"/>
<rect x="1055.5" y="481.64" width="45.0" height="32.68" fill="#B0B008"/>
<rect x="1055.5" y="449.46" width="45.0" height="32.68" fill="#FFD800"/>
<rect x="1055.5" y="417.29" width="45.0" height="32.68" fill="#FDB80A"/>
<rect x="1055.5" y="385.11" width="45.0" height="32.68" fill="#FF9A05"/>
<rect x="1055.5" y="352.93" width="45.0" height="32.68" fill="#FF7D05"/>
<rect x="1055.5" y="320.75" width="45.0" height="32.68" fill="#E00000"/>
<rect x="1055.5" y="288.57" width="45.0" height="32.68" fill="#C00000"/>
<rect x="1055.5" y="256.39" width="45.0" height="32.68" fill="#A00000"/>
<rect x="1055.5" y="224.21" width="45.0" height="32.68" fill="#7D0000"/>
<rect x="1055.5" y="192.04" width="45.0" height="32.68" fill="#FFE1FF"/>
<rect x="1055.5" y="159.86" width="45.0" height="32.68" fill="#FFB0FF"/>
<rect x="1055.5" y="127.68" width="45.0" height="32.68" fill="#FF69F8"/>
<rect x="1055.5" y="95.50" width="45.0" height="32.68" fill="#EA35EA"/>
</g>
<rect x="1055.5" y="95.5" width="45.0" height="901.0" fill="none" stroke="#000" stroke-width="1.1"/>
<g stroke="#000" stroke-width="1.1">
<line x1="1100.5" y1="996.5" x2="1105.9" y2="996.5"/>
<line x1="1100.5" y1="867.5" x2="1105.9" y2="867.5"/>
<line x1="1100.5" y1="739.5" x2="1105.9" y2="739.5"/>
<line x1="1100.5" y1="610.5" x2="1105.9" y2="610.5"/>
<line x1="1100.5" y1="481.5" x2="1105.9" y2="481.5"/>
<line x1="1100.5" y1="352.5" x2="1105.9" y2="352.5"/>
<line x1="1100.5" y1="224.5" x2="1105.9" y2="224.5"/>
<line x1="1100.5" y1="95.5" x2="1105.9" y2="95.5"/>
</g>
<g opacity="0.999">
<text transform="translate(1111.91,1006.90) scale(1.0069,1)" font-size="29.53" stroke="#000" stroke-width="0.3">0</text>
<text transform="translate(1112.90,878.19) scale(0.9470,1)" font-size="29.53" stroke="#000" stroke-width="0.3">10</text>
<text transform="translate(1111.64,749.47) scale(0.9868,1)" font-size="29.53" stroke="#000" stroke-width="0.3">20</text>
<text transform="translate(1112.02,620.76) scale(0.9749,1)" font-size="29.53" stroke="#000" stroke-width="0.3">30</text>
<text transform="translate(1110.62,492.04) scale(1.0190,1)" font-size="29.53" stroke="#000" stroke-width="0.3">40</text>
<text transform="translate(1111.95,363.33) scale(0.9772,1)" font-size="29.53" stroke="#000" stroke-width="0.3">50</text>
<text transform="translate(1111.64,234.61) scale(0.9868,1)" font-size="29.53" stroke="#000" stroke-width="0.3">60</text>
<text transform="translate(1110.38,105.90) scale(1.0265,1)" font-size="29.53" stroke="#000" stroke-width="0.3">70</text>
<text transform="translate(1173.10,575.25) rotate(-90) scale(0.9841,1)" font-size="29.96" stroke="#000" stroke-width="0.3">dBZ</text>
</g>
</svg></body></html>
